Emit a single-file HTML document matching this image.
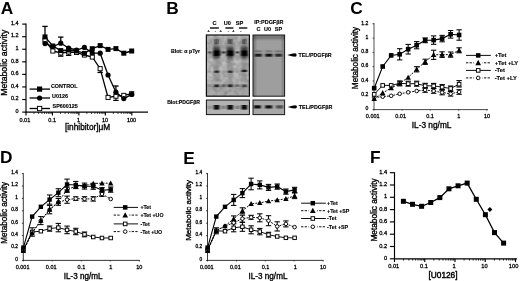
<!DOCTYPE html>
<html lang="en"><head><meta charset="utf-8"><title>Figure</title>
<style>html,body{margin:0;padding:0;background:#fff;overflow:hidden}svg{display:block}text{fill:#000}</style>
</head><body>
<svg width="520" height="281" viewBox="0 0 520 281">
<rect width="520" height="281" fill="#fff"/>
<filter id="soft" x="0" y="0" width="520" height="281" filterUnits="userSpaceOnUse"><feGaussianBlur stdDeviation="0.38"/></filter>
<g filter="url(#soft)">
<text x="0.80" y="13.70" font-size="17.3" text-anchor="start" font-weight="bold" font-family="Liberation Sans, Arial, sans-serif">A</text>
<text x="166.20" y="13.70" font-size="17.3" text-anchor="start" font-weight="bold" font-family="Liberation Sans, Arial, sans-serif">B</text>
<text x="350.30" y="13.70" font-size="17.3" text-anchor="start" font-weight="bold" font-family="Liberation Sans, Arial, sans-serif">C</text>
<text x="-0.10" y="163.40" font-size="17.3" text-anchor="start" font-weight="bold" font-family="Liberation Sans, Arial, sans-serif">D</text>
<text x="183.20" y="163.50" font-size="17.3" text-anchor="start" font-weight="bold" font-family="Liberation Sans, Arial, sans-serif">E</text>
<text x="370.00" y="163.20" font-size="17.3" text-anchor="start" font-weight="bold" font-family="Liberation Sans, Arial, sans-serif">F</text>
<line x1="26.00" y1="23.55" x2="26.00" y2="112.55" stroke="#000" stroke-width="1.15"/>
<line x1="25.55" y1="112.10" x2="148.00" y2="112.10" stroke="#000" stroke-width="1.15"/>
<line x1="22.20" y1="112.10" x2="26.00" y2="112.10" stroke="#000" stroke-width="1.15"/>
<text x="18.60" y="112.78" font-size="5.5" text-anchor="end" font-weight="normal" font-family="Liberation Sans, Arial, sans-serif" stroke="#000" stroke-width="0.28">0</text>
<line x1="22.20" y1="99.53" x2="26.00" y2="99.53" stroke="#000" stroke-width="1.15"/>
<text x="18.60" y="100.21" font-size="5.5" text-anchor="end" font-weight="normal" font-family="Liberation Sans, Arial, sans-serif" stroke="#000" stroke-width="0.28">0.2</text>
<line x1="22.20" y1="86.96" x2="26.00" y2="86.96" stroke="#000" stroke-width="1.15"/>
<text x="18.60" y="87.64" font-size="5.5" text-anchor="end" font-weight="normal" font-family="Liberation Sans, Arial, sans-serif" stroke="#000" stroke-width="0.28">0.4</text>
<line x1="22.20" y1="74.39" x2="26.00" y2="74.39" stroke="#000" stroke-width="1.15"/>
<text x="18.60" y="75.07" font-size="5.5" text-anchor="end" font-weight="normal" font-family="Liberation Sans, Arial, sans-serif" stroke="#000" stroke-width="0.28">0.6</text>
<line x1="22.20" y1="61.82" x2="26.00" y2="61.82" stroke="#000" stroke-width="1.15"/>
<text x="18.60" y="62.50" font-size="5.5" text-anchor="end" font-weight="normal" font-family="Liberation Sans, Arial, sans-serif" stroke="#000" stroke-width="0.28">0.8</text>
<line x1="22.20" y1="49.25" x2="26.00" y2="49.25" stroke="#000" stroke-width="1.15"/>
<text x="18.60" y="49.93" font-size="5.5" text-anchor="end" font-weight="normal" font-family="Liberation Sans, Arial, sans-serif" stroke="#000" stroke-width="0.28">1</text>
<line x1="22.20" y1="36.68" x2="26.00" y2="36.68" stroke="#000" stroke-width="1.15"/>
<text x="18.60" y="37.36" font-size="5.5" text-anchor="end" font-weight="normal" font-family="Liberation Sans, Arial, sans-serif" stroke="#000" stroke-width="0.28">1.2</text>
<line x1="22.20" y1="24.11" x2="26.00" y2="24.11" stroke="#000" stroke-width="1.15"/>
<text x="18.60" y="24.79" font-size="5.5" text-anchor="end" font-weight="normal" font-family="Liberation Sans, Arial, sans-serif" stroke="#000" stroke-width="0.28">1.4</text>
<line x1="26.00" y1="112.10" x2="26.00" y2="115.50" stroke="#000" stroke-width="1.15"/>
<text x="24.90" y="121.50" font-size="5.5" text-anchor="middle" font-weight="normal" font-family="Liberation Sans, Arial, sans-serif" stroke="#000" stroke-width="0.28">0.01</text>
<line x1="52.45" y1="112.10" x2="52.45" y2="115.50" stroke="#000" stroke-width="1.15"/>
<text x="52.15" y="121.50" font-size="5.5" text-anchor="middle" font-weight="normal" font-family="Liberation Sans, Arial, sans-serif" stroke="#000" stroke-width="0.28">0.1</text>
<line x1="78.90" y1="112.10" x2="78.90" y2="115.50" stroke="#000" stroke-width="1.15"/>
<text x="78.60" y="121.50" font-size="5.5" text-anchor="middle" font-weight="normal" font-family="Liberation Sans, Arial, sans-serif" stroke="#000" stroke-width="0.28">1</text>
<line x1="105.35" y1="112.10" x2="105.35" y2="115.50" stroke="#000" stroke-width="1.15"/>
<text x="105.05" y="121.50" font-size="5.5" text-anchor="middle" font-weight="normal" font-family="Liberation Sans, Arial, sans-serif" stroke="#000" stroke-width="0.28">10</text>
<line x1="131.80" y1="112.10" x2="131.80" y2="115.50" stroke="#000" stroke-width="1.15"/>
<text x="131.50" y="121.50" font-size="5.5" text-anchor="middle" font-weight="normal" font-family="Liberation Sans, Arial, sans-serif" stroke="#000" stroke-width="0.28">100</text>
<line x1="33.96" y1="112.10" x2="33.96" y2="113.90" stroke="#000" stroke-width="0.8"/>
<line x1="38.62" y1="112.10" x2="38.62" y2="113.90" stroke="#000" stroke-width="0.8"/>
<line x1="41.92" y1="112.10" x2="41.92" y2="113.90" stroke="#000" stroke-width="0.8"/>
<line x1="44.49" y1="112.10" x2="44.49" y2="113.90" stroke="#000" stroke-width="0.8"/>
<line x1="46.58" y1="112.10" x2="46.58" y2="113.90" stroke="#000" stroke-width="0.8"/>
<line x1="48.35" y1="112.10" x2="48.35" y2="113.90" stroke="#000" stroke-width="0.8"/>
<line x1="49.89" y1="112.10" x2="49.89" y2="113.90" stroke="#000" stroke-width="0.8"/>
<line x1="51.24" y1="112.10" x2="51.24" y2="113.90" stroke="#000" stroke-width="0.8"/>
<line x1="60.41" y1="112.10" x2="60.41" y2="113.90" stroke="#000" stroke-width="0.8"/>
<line x1="65.07" y1="112.10" x2="65.07" y2="113.90" stroke="#000" stroke-width="0.8"/>
<line x1="68.37" y1="112.10" x2="68.37" y2="113.90" stroke="#000" stroke-width="0.8"/>
<line x1="70.94" y1="112.10" x2="70.94" y2="113.90" stroke="#000" stroke-width="0.8"/>
<line x1="73.03" y1="112.10" x2="73.03" y2="113.90" stroke="#000" stroke-width="0.8"/>
<line x1="74.80" y1="112.10" x2="74.80" y2="113.90" stroke="#000" stroke-width="0.8"/>
<line x1="76.34" y1="112.10" x2="76.34" y2="113.90" stroke="#000" stroke-width="0.8"/>
<line x1="77.69" y1="112.10" x2="77.69" y2="113.90" stroke="#000" stroke-width="0.8"/>
<line x1="86.86" y1="112.10" x2="86.86" y2="113.90" stroke="#000" stroke-width="0.8"/>
<line x1="91.52" y1="112.10" x2="91.52" y2="113.90" stroke="#000" stroke-width="0.8"/>
<line x1="94.82" y1="112.10" x2="94.82" y2="113.90" stroke="#000" stroke-width="0.8"/>
<line x1="97.39" y1="112.10" x2="97.39" y2="113.90" stroke="#000" stroke-width="0.8"/>
<line x1="99.48" y1="112.10" x2="99.48" y2="113.90" stroke="#000" stroke-width="0.8"/>
<line x1="101.25" y1="112.10" x2="101.25" y2="113.90" stroke="#000" stroke-width="0.8"/>
<line x1="102.79" y1="112.10" x2="102.79" y2="113.90" stroke="#000" stroke-width="0.8"/>
<line x1="104.14" y1="112.10" x2="104.14" y2="113.90" stroke="#000" stroke-width="0.8"/>
<line x1="113.31" y1="112.10" x2="113.31" y2="113.90" stroke="#000" stroke-width="0.8"/>
<line x1="117.97" y1="112.10" x2="117.97" y2="113.90" stroke="#000" stroke-width="0.8"/>
<line x1="121.27" y1="112.10" x2="121.27" y2="113.90" stroke="#000" stroke-width="0.8"/>
<line x1="123.84" y1="112.10" x2="123.84" y2="113.90" stroke="#000" stroke-width="0.8"/>
<line x1="125.93" y1="112.10" x2="125.93" y2="113.90" stroke="#000" stroke-width="0.8"/>
<line x1="127.70" y1="112.10" x2="127.70" y2="113.90" stroke="#000" stroke-width="0.8"/>
<line x1="129.24" y1="112.10" x2="129.24" y2="113.90" stroke="#000" stroke-width="0.8"/>
<line x1="130.59" y1="112.10" x2="130.59" y2="113.90" stroke="#000" stroke-width="0.8"/>
<text x="7.40" y="62.70" font-size="8.7" text-anchor="middle" font-weight="normal" font-family="Liberation Sans, Arial, sans-serif" transform="rotate(-90 7.40 62.70)" stroke="#000" stroke-width="0.34">Metabolic activity</text>
<text x="87.60" y="129.90" font-size="8.3" text-anchor="middle" font-weight="normal" font-family="Liberation Sans, Arial, sans-serif" stroke="#000" stroke-width="0.34">[inhibitor]μM</text>
<polyline points="45.00,36.90 52.88,46.00 60.76,50.60 68.64,50.00 76.52,51.00 84.40,53.40 92.28,48.70 100.16,45.60 108.04,49.40 115.92,48.60 123.80,53.20 131.68,51.00" fill="none" stroke="#000" stroke-width="1.3"/>
<polyline points="45.00,43.60 52.88,46.50 60.76,43.20 68.64,48.00 76.52,50.00 84.40,47.40 92.28,53.00 100.16,53.20 108.04,75.00 115.92,92.20 123.80,98.60 131.68,94.40" fill="none" stroke="#000" stroke-width="1.3"/>
<polyline points="45.00,40.00 52.88,51.00 60.76,53.00 68.64,52.00 76.52,52.50 84.40,55.00 92.28,57.00 100.16,68.70 108.04,97.40 115.92,96.20 123.80,95.40 131.68,93.70" fill="none" stroke="#000" stroke-width="1.3"/>
<line x1="45.00" y1="37.40" x2="45.00" y2="26.40" stroke="#000" stroke-width="1.3"/>
<line x1="42.30" y1="26.40" x2="47.70" y2="26.40" stroke="#000" stroke-width="1.3"/>
<line x1="60.76" y1="43.60" x2="60.76" y2="37.10" stroke="#000" stroke-width="1.3"/>
<line x1="58.06" y1="37.10" x2="63.46" y2="37.10" stroke="#000" stroke-width="1.3"/>
<line x1="115.92" y1="92.40" x2="115.92" y2="86.00" stroke="#000" stroke-width="1.3"/>
<line x1="113.22" y1="86.00" x2="118.62" y2="86.00" stroke="#000" stroke-width="1.3"/>
<line x1="115.92" y1="96.20" x2="115.92" y2="100.40" stroke="#000" stroke-width="1.2"/>
<line x1="113.22" y1="100.40" x2="118.62" y2="100.40" stroke="#000" stroke-width="1.2"/>
<line x1="100.16" y1="68.70" x2="100.16" y2="72.50" stroke="#000" stroke-width="1.2"/>
<line x1="97.46" y1="72.50" x2="102.86" y2="72.50" stroke="#000" stroke-width="1.2"/>
<line x1="60.76" y1="53.00" x2="60.76" y2="56.20" stroke="#000" stroke-width="1.2"/>
<line x1="58.06" y1="56.20" x2="63.46" y2="56.20" stroke="#000" stroke-width="1.2"/>
<line x1="68.64" y1="52.00" x2="68.64" y2="55.40" stroke="#000" stroke-width="1.2"/>
<line x1="65.94" y1="55.40" x2="71.34" y2="55.40" stroke="#000" stroke-width="1.2"/>
<rect x="42.95" y="37.95" width="4.10" height="4.10" fill="#fff" stroke="#000" stroke-width="0.95"/>
<rect x="50.83" y="48.95" width="4.10" height="4.10" fill="#fff" stroke="#000" stroke-width="0.95"/>
<rect x="58.71" y="50.95" width="4.10" height="4.10" fill="#fff" stroke="#000" stroke-width="0.95"/>
<rect x="66.59" y="49.95" width="4.10" height="4.10" fill="#fff" stroke="#000" stroke-width="0.95"/>
<rect x="74.47" y="50.45" width="4.10" height="4.10" fill="#fff" stroke="#000" stroke-width="0.95"/>
<rect x="82.35" y="52.95" width="4.10" height="4.10" fill="#fff" stroke="#000" stroke-width="0.95"/>
<rect x="90.23" y="54.95" width="4.10" height="4.10" fill="#fff" stroke="#000" stroke-width="0.95"/>
<rect x="98.11" y="66.65" width="4.10" height="4.10" fill="#fff" stroke="#000" stroke-width="0.95"/>
<rect x="105.99" y="95.35" width="4.10" height="4.10" fill="#fff" stroke="#000" stroke-width="0.95"/>
<rect x="113.87" y="94.15" width="4.10" height="4.10" fill="#fff" stroke="#000" stroke-width="0.95"/>
<rect x="121.75" y="93.35" width="4.10" height="4.10" fill="#fff" stroke="#000" stroke-width="0.95"/>
<rect x="129.63" y="91.65" width="4.10" height="4.10" fill="#fff" stroke="#000" stroke-width="0.95"/>
<circle cx="45.00" cy="43.60" r="2.60" fill="#000"/>
<circle cx="52.88" cy="46.50" r="2.60" fill="#000"/>
<circle cx="60.76" cy="43.20" r="2.60" fill="#000"/>
<circle cx="68.64" cy="48.00" r="2.60" fill="#000"/>
<circle cx="76.52" cy="50.00" r="2.60" fill="#000"/>
<circle cx="84.40" cy="47.40" r="2.60" fill="#000"/>
<circle cx="92.28" cy="53.00" r="2.60" fill="#000"/>
<circle cx="100.16" cy="53.20" r="2.60" fill="#000"/>
<circle cx="108.04" cy="75.00" r="2.60" fill="#000"/>
<circle cx="115.92" cy="92.20" r="2.60" fill="#000"/>
<circle cx="123.80" cy="98.60" r="2.60" fill="#000"/>
<circle cx="131.68" cy="94.40" r="2.60" fill="#000"/>
<rect x="42.50" y="34.40" width="5.0" height="5.0" fill="#000"/>
<rect x="50.38" y="43.50" width="5.0" height="5.0" fill="#000"/>
<rect x="58.26" y="48.10" width="5.0" height="5.0" fill="#000"/>
<rect x="66.14" y="47.50" width="5.0" height="5.0" fill="#000"/>
<rect x="74.02" y="48.50" width="5.0" height="5.0" fill="#000"/>
<rect x="81.90" y="50.90" width="5.0" height="5.0" fill="#000"/>
<rect x="89.78" y="46.20" width="5.0" height="5.0" fill="#000"/>
<rect x="97.66" y="43.10" width="5.0" height="5.0" fill="#000"/>
<rect x="105.54" y="46.90" width="5.0" height="5.0" fill="#000"/>
<rect x="113.42" y="46.10" width="5.0" height="5.0" fill="#000"/>
<rect x="121.30" y="50.70" width="5.0" height="5.0" fill="#000"/>
<rect x="129.18" y="48.50" width="5.0" height="5.0" fill="#000"/>
<line x1="29.60" y1="89.10" x2="50.00" y2="89.10" stroke="#000" stroke-width="1.3"/>
<rect x="37.00" y="86.50" width="5.2" height="5.2" fill="#000"/>
<text x="50.90" y="88.00" font-size="5.4" text-anchor="start" font-weight="bold" font-family="Liberation Sans, Arial, sans-serif" stroke="#000" stroke-width="0.14">CONTROL</text>
<line x1="29.60" y1="98.00" x2="50.00" y2="98.00" stroke="#000" stroke-width="1.3"/>
<circle cx="39.60" cy="98.00" r="2.60" fill="#000"/>
<text x="52.00" y="98.30" font-size="5.4" text-anchor="start" font-weight="bold" font-family="Liberation Sans, Arial, sans-serif" stroke="#000" stroke-width="0.14">U0126</text>
<line x1="29.60" y1="108.50" x2="50.00" y2="108.50" stroke="#000" stroke-width="1.3"/>
<rect x="37.45" y="106.35" width="4.30" height="4.30" fill="#fff" stroke="#000" stroke-width="0.95"/>
<text x="52.60" y="107.60" font-size="5.4" text-anchor="start" font-weight="bold" font-family="Liberation Sans, Arial, sans-serif" stroke="#000" stroke-width="0.14">SP600125</text>
<line x1="374.00" y1="23.05" x2="374.00" y2="110.05" stroke="#2a2a2a" stroke-width="0.85"/>
<line x1="373.55" y1="109.60" x2="488.00" y2="109.60" stroke="#2a2a2a" stroke-width="0.85"/>
<line x1="372.60" y1="109.60" x2="374.00" y2="109.60" stroke="#2a2a2a" stroke-width="0.85"/>
<text x="368.40" y="110.34" font-size="5.1" text-anchor="end" font-weight="normal" font-family="Liberation Sans, Arial, sans-serif" stroke="#000" stroke-width="0.28">0</text>
<line x1="372.60" y1="95.30" x2="374.00" y2="95.30" stroke="#2a2a2a" stroke-width="0.85"/>
<text x="368.40" y="96.04" font-size="5.1" text-anchor="end" font-weight="normal" font-family="Liberation Sans, Arial, sans-serif" stroke="#000" stroke-width="0.28">0.2</text>
<line x1="372.60" y1="81.00" x2="374.00" y2="81.00" stroke="#2a2a2a" stroke-width="0.85"/>
<text x="368.40" y="81.74" font-size="5.1" text-anchor="end" font-weight="normal" font-family="Liberation Sans, Arial, sans-serif" stroke="#000" stroke-width="0.28">0.4</text>
<line x1="372.60" y1="66.70" x2="374.00" y2="66.70" stroke="#2a2a2a" stroke-width="0.85"/>
<text x="368.40" y="67.44" font-size="5.1" text-anchor="end" font-weight="normal" font-family="Liberation Sans, Arial, sans-serif" stroke="#000" stroke-width="0.28">0.6</text>
<line x1="372.60" y1="52.40" x2="374.00" y2="52.40" stroke="#2a2a2a" stroke-width="0.85"/>
<text x="368.40" y="53.14" font-size="5.1" text-anchor="end" font-weight="normal" font-family="Liberation Sans, Arial, sans-serif" stroke="#000" stroke-width="0.28">0.8</text>
<line x1="372.60" y1="38.10" x2="374.00" y2="38.10" stroke="#2a2a2a" stroke-width="0.85"/>
<text x="368.40" y="38.84" font-size="5.1" text-anchor="end" font-weight="normal" font-family="Liberation Sans, Arial, sans-serif" stroke="#000" stroke-width="0.28">1</text>
<line x1="372.60" y1="23.80" x2="374.00" y2="23.80" stroke="#2a2a2a" stroke-width="0.85"/>
<text x="368.40" y="24.54" font-size="5.1" text-anchor="end" font-weight="normal" font-family="Liberation Sans, Arial, sans-serif" stroke="#000" stroke-width="0.28">1.2</text>
<line x1="374.00" y1="109.60" x2="374.00" y2="110.60" stroke="#2a2a2a" stroke-width="0.85"/>
<text x="372.70" y="117.90" font-size="5.5" text-anchor="middle" font-weight="normal" font-family="Liberation Sans, Arial, sans-serif" stroke="#000" stroke-width="0.28">0.001</text>
<line x1="402.20" y1="109.60" x2="402.20" y2="110.60" stroke="#2a2a2a" stroke-width="0.85"/>
<text x="400.60" y="117.90" font-size="5.5" text-anchor="middle" font-weight="normal" font-family="Liberation Sans, Arial, sans-serif" stroke="#000" stroke-width="0.28">0.01</text>
<line x1="430.40" y1="109.60" x2="430.40" y2="110.60" stroke="#2a2a2a" stroke-width="0.85"/>
<text x="430.10" y="117.90" font-size="5.5" text-anchor="middle" font-weight="normal" font-family="Liberation Sans, Arial, sans-serif" stroke="#000" stroke-width="0.28">0.1</text>
<line x1="458.60" y1="109.60" x2="458.60" y2="110.60" stroke="#2a2a2a" stroke-width="0.85"/>
<text x="458.70" y="117.90" font-size="5.5" text-anchor="middle" font-weight="normal" font-family="Liberation Sans, Arial, sans-serif" stroke="#000" stroke-width="0.28">1</text>
<line x1="486.80" y1="109.60" x2="486.80" y2="110.60" stroke="#2a2a2a" stroke-width="0.85"/>
<text x="487.00" y="117.90" font-size="5.5" text-anchor="middle" font-weight="normal" font-family="Liberation Sans, Arial, sans-serif" stroke="#000" stroke-width="0.28">10</text>
<text x="358.30" y="58.00" font-size="8.2" text-anchor="middle" font-weight="normal" font-family="Liberation Sans, Arial, sans-serif" transform="rotate(-90 358.30 58.00)" stroke="#000" stroke-width="0.34">Metabolic activity</text>
<text x="431.60" y="128.20" font-size="8.3" text-anchor="middle" font-weight="normal" font-family="Liberation Sans, Arial, sans-serif" stroke="#000" stroke-width="0.34">IL-3 ng/mL</text>
<polyline points="374.20,88.20 382.69,66.50 391.18,55.40 399.67,54.30 408.16,49.20 416.65,45.20 425.14,40.30 433.63,40.10 442.12,38.60 450.61,34.30 459.10,35.00" fill="none" stroke="#000" stroke-width="1.1"/>
<polyline points="374.20,94.40 382.69,85.40 391.18,85.40 399.67,83.40 408.16,83.70 416.65,83.70 425.14,85.80 433.63,85.90 442.12,87.10 450.61,88.50 459.10,84.20" fill="none" stroke="#000" stroke-width="0.95"/>
<polyline points="374.20,98.70 382.69,92.90 391.18,88.00 399.67,83.30 408.16,77.50 416.65,69.30 425.14,61.80 433.63,54.80 442.12,54.60 450.61,54.60 459.10,50.30" fill="none" stroke="#000" stroke-width="0.95" stroke-dasharray="2 1.2"/>
<polyline points="374.20,97.40 382.69,96.70 391.18,95.80 399.67,93.80 408.16,92.30 416.65,91.00 425.14,90.00 433.63,91.00 442.12,92.50 450.61,93.80 459.10,92.00" fill="none" stroke="#000" stroke-width="0.95" stroke-dasharray="2 1.2"/>
<line x1="399.67" y1="54.30" x2="399.67" y2="48.70" stroke="#000" stroke-width="1.05"/>
<line x1="396.97" y1="48.70" x2="402.37" y2="48.70" stroke="#000" stroke-width="1.05"/>
<line x1="399.67" y1="54.30" x2="399.67" y2="59.90" stroke="#000" stroke-width="1.05"/>
<line x1="396.97" y1="59.90" x2="402.37" y2="59.90" stroke="#000" stroke-width="1.05"/>
<line x1="408.16" y1="49.20" x2="408.16" y2="44.40" stroke="#000" stroke-width="1.05"/>
<line x1="405.46" y1="44.40" x2="410.86" y2="44.40" stroke="#000" stroke-width="1.05"/>
<line x1="408.16" y1="49.20" x2="408.16" y2="54.00" stroke="#000" stroke-width="1.05"/>
<line x1="405.46" y1="54.00" x2="410.86" y2="54.00" stroke="#000" stroke-width="1.05"/>
<line x1="416.65" y1="45.20" x2="416.65" y2="41.60" stroke="#000" stroke-width="1.05"/>
<line x1="413.95" y1="41.60" x2="419.35" y2="41.60" stroke="#000" stroke-width="1.05"/>
<line x1="416.65" y1="45.20" x2="416.65" y2="48.80" stroke="#000" stroke-width="1.05"/>
<line x1="413.95" y1="48.80" x2="419.35" y2="48.80" stroke="#000" stroke-width="1.05"/>
<line x1="425.14" y1="40.30" x2="425.14" y2="37.90" stroke="#000" stroke-width="1.05"/>
<line x1="422.44" y1="37.90" x2="427.84" y2="37.90" stroke="#000" stroke-width="1.05"/>
<line x1="425.14" y1="40.30" x2="425.14" y2="42.70" stroke="#000" stroke-width="1.05"/>
<line x1="422.44" y1="42.70" x2="427.84" y2="42.70" stroke="#000" stroke-width="1.05"/>
<line x1="433.63" y1="40.10" x2="433.63" y2="35.90" stroke="#000" stroke-width="1.05"/>
<line x1="430.93" y1="35.90" x2="436.33" y2="35.90" stroke="#000" stroke-width="1.05"/>
<line x1="433.63" y1="40.10" x2="433.63" y2="44.30" stroke="#000" stroke-width="1.05"/>
<line x1="430.93" y1="44.30" x2="436.33" y2="44.30" stroke="#000" stroke-width="1.05"/>
<line x1="442.12" y1="38.60" x2="442.12" y2="35.40" stroke="#000" stroke-width="1.05"/>
<line x1="439.42" y1="35.40" x2="444.82" y2="35.40" stroke="#000" stroke-width="1.05"/>
<line x1="442.12" y1="38.60" x2="442.12" y2="41.80" stroke="#000" stroke-width="1.05"/>
<line x1="439.42" y1="41.80" x2="444.82" y2="41.80" stroke="#000" stroke-width="1.05"/>
<line x1="450.61" y1="34.30" x2="450.61" y2="30.50" stroke="#000" stroke-width="1.05"/>
<line x1="447.91" y1="30.50" x2="453.31" y2="30.50" stroke="#000" stroke-width="1.05"/>
<line x1="450.61" y1="34.30" x2="450.61" y2="38.10" stroke="#000" stroke-width="1.05"/>
<line x1="447.91" y1="38.10" x2="453.31" y2="38.10" stroke="#000" stroke-width="1.05"/>
<line x1="459.10" y1="35.00" x2="459.10" y2="29.80" stroke="#000" stroke-width="1.05"/>
<line x1="456.40" y1="29.80" x2="461.80" y2="29.80" stroke="#000" stroke-width="1.05"/>
<line x1="459.10" y1="35.00" x2="459.10" y2="40.20" stroke="#000" stroke-width="1.05"/>
<line x1="456.40" y1="40.20" x2="461.80" y2="40.20" stroke="#000" stroke-width="1.05"/>
<line x1="416.65" y1="69.30" x2="416.65" y2="66.70" stroke="#000" stroke-width="1.05"/>
<line x1="413.95" y1="66.70" x2="419.35" y2="66.70" stroke="#000" stroke-width="1.05"/>
<line x1="416.65" y1="69.30" x2="416.65" y2="71.90" stroke="#000" stroke-width="1.05"/>
<line x1="413.95" y1="71.90" x2="419.35" y2="71.90" stroke="#000" stroke-width="1.05"/>
<line x1="425.14" y1="61.80" x2="425.14" y2="59.20" stroke="#000" stroke-width="1.05"/>
<line x1="422.44" y1="59.20" x2="427.84" y2="59.20" stroke="#000" stroke-width="1.05"/>
<line x1="425.14" y1="61.80" x2="425.14" y2="64.40" stroke="#000" stroke-width="1.05"/>
<line x1="422.44" y1="64.40" x2="427.84" y2="64.40" stroke="#000" stroke-width="1.05"/>
<line x1="433.63" y1="54.80" x2="433.63" y2="50.20" stroke="#000" stroke-width="1.05"/>
<line x1="430.93" y1="50.20" x2="436.33" y2="50.20" stroke="#000" stroke-width="1.05"/>
<line x1="433.63" y1="54.80" x2="433.63" y2="59.40" stroke="#000" stroke-width="1.05"/>
<line x1="430.93" y1="59.40" x2="436.33" y2="59.40" stroke="#000" stroke-width="1.05"/>
<line x1="442.12" y1="54.60" x2="442.12" y2="51.80" stroke="#000" stroke-width="1.05"/>
<line x1="439.42" y1="51.80" x2="444.82" y2="51.80" stroke="#000" stroke-width="1.05"/>
<line x1="442.12" y1="54.60" x2="442.12" y2="57.40" stroke="#000" stroke-width="1.05"/>
<line x1="439.42" y1="57.40" x2="444.82" y2="57.40" stroke="#000" stroke-width="1.05"/>
<line x1="450.61" y1="54.60" x2="450.61" y2="52.00" stroke="#000" stroke-width="1.05"/>
<line x1="447.91" y1="52.00" x2="453.31" y2="52.00" stroke="#000" stroke-width="1.05"/>
<line x1="450.61" y1="54.60" x2="450.61" y2="57.20" stroke="#000" stroke-width="1.05"/>
<line x1="447.91" y1="57.20" x2="453.31" y2="57.20" stroke="#000" stroke-width="1.05"/>
<line x1="459.10" y1="50.30" x2="459.10" y2="47.80" stroke="#000" stroke-width="1.05"/>
<line x1="456.40" y1="47.80" x2="461.80" y2="47.80" stroke="#000" stroke-width="1.05"/>
<line x1="459.10" y1="50.30" x2="459.10" y2="52.80" stroke="#000" stroke-width="1.05"/>
<line x1="456.40" y1="52.80" x2="461.80" y2="52.80" stroke="#000" stroke-width="1.05"/>
<line x1="399.67" y1="83.40" x2="399.67" y2="80.90" stroke="#000" stroke-width="1.05"/>
<line x1="396.97" y1="80.90" x2="402.37" y2="80.90" stroke="#000" stroke-width="1.05"/>
<line x1="399.67" y1="83.40" x2="399.67" y2="85.90" stroke="#000" stroke-width="1.05"/>
<line x1="396.97" y1="85.90" x2="402.37" y2="85.90" stroke="#000" stroke-width="1.05"/>
<line x1="408.16" y1="83.70" x2="408.16" y2="81.20" stroke="#000" stroke-width="1.05"/>
<line x1="405.46" y1="81.20" x2="410.86" y2="81.20" stroke="#000" stroke-width="1.05"/>
<line x1="408.16" y1="83.70" x2="408.16" y2="86.20" stroke="#000" stroke-width="1.05"/>
<line x1="405.46" y1="86.20" x2="410.86" y2="86.20" stroke="#000" stroke-width="1.05"/>
<line x1="416.65" y1="83.70" x2="416.65" y2="81.20" stroke="#000" stroke-width="1.05"/>
<line x1="413.95" y1="81.20" x2="419.35" y2="81.20" stroke="#000" stroke-width="1.05"/>
<line x1="416.65" y1="83.70" x2="416.65" y2="86.20" stroke="#000" stroke-width="1.05"/>
<line x1="413.95" y1="86.20" x2="419.35" y2="86.20" stroke="#000" stroke-width="1.05"/>
<line x1="425.14" y1="85.80" x2="425.14" y2="83.30" stroke="#000" stroke-width="1.05"/>
<line x1="422.44" y1="83.30" x2="427.84" y2="83.30" stroke="#000" stroke-width="1.05"/>
<line x1="425.14" y1="85.80" x2="425.14" y2="88.30" stroke="#000" stroke-width="1.05"/>
<line x1="422.44" y1="88.30" x2="427.84" y2="88.30" stroke="#000" stroke-width="1.05"/>
<line x1="433.63" y1="85.90" x2="433.63" y2="83.40" stroke="#000" stroke-width="1.05"/>
<line x1="430.93" y1="83.40" x2="436.33" y2="83.40" stroke="#000" stroke-width="1.05"/>
<line x1="433.63" y1="85.90" x2="433.63" y2="88.40" stroke="#000" stroke-width="1.05"/>
<line x1="430.93" y1="88.40" x2="436.33" y2="88.40" stroke="#000" stroke-width="1.05"/>
<line x1="442.12" y1="87.10" x2="442.12" y2="84.60" stroke="#000" stroke-width="1.05"/>
<line x1="439.42" y1="84.60" x2="444.82" y2="84.60" stroke="#000" stroke-width="1.05"/>
<line x1="442.12" y1="87.10" x2="442.12" y2="89.60" stroke="#000" stroke-width="1.05"/>
<line x1="439.42" y1="89.60" x2="444.82" y2="89.60" stroke="#000" stroke-width="1.05"/>
<line x1="450.61" y1="88.50" x2="450.61" y2="86.00" stroke="#000" stroke-width="1.05"/>
<line x1="447.91" y1="86.00" x2="453.31" y2="86.00" stroke="#000" stroke-width="1.05"/>
<line x1="450.61" y1="88.50" x2="450.61" y2="91.00" stroke="#000" stroke-width="1.05"/>
<line x1="447.91" y1="91.00" x2="453.31" y2="91.00" stroke="#000" stroke-width="1.05"/>
<line x1="459.10" y1="84.20" x2="459.10" y2="80.60" stroke="#000" stroke-width="1.05"/>
<line x1="456.40" y1="80.60" x2="461.80" y2="80.60" stroke="#000" stroke-width="1.05"/>
<line x1="459.10" y1="84.20" x2="459.10" y2="87.00" stroke="#000" stroke-width="1.05"/>
<line x1="456.40" y1="87.00" x2="461.80" y2="87.00" stroke="#000" stroke-width="1.05"/>
<line x1="425.14" y1="90.00" x2="425.14" y2="87.70" stroke="#000" stroke-width="1.05"/>
<line x1="422.44" y1="87.70" x2="427.84" y2="87.70" stroke="#000" stroke-width="1.05"/>
<line x1="425.14" y1="90.00" x2="425.14" y2="92.30" stroke="#000" stroke-width="1.05"/>
<line x1="422.44" y1="92.30" x2="427.84" y2="92.30" stroke="#000" stroke-width="1.05"/>
<line x1="433.63" y1="91.00" x2="433.63" y2="88.70" stroke="#000" stroke-width="1.05"/>
<line x1="430.93" y1="88.70" x2="436.33" y2="88.70" stroke="#000" stroke-width="1.05"/>
<line x1="433.63" y1="91.00" x2="433.63" y2="93.30" stroke="#000" stroke-width="1.05"/>
<line x1="430.93" y1="93.30" x2="436.33" y2="93.30" stroke="#000" stroke-width="1.05"/>
<line x1="442.12" y1="92.50" x2="442.12" y2="90.20" stroke="#000" stroke-width="1.05"/>
<line x1="439.42" y1="90.20" x2="444.82" y2="90.20" stroke="#000" stroke-width="1.05"/>
<line x1="442.12" y1="92.50" x2="442.12" y2="94.80" stroke="#000" stroke-width="1.05"/>
<line x1="439.42" y1="94.80" x2="444.82" y2="94.80" stroke="#000" stroke-width="1.05"/>
<line x1="450.61" y1="93.80" x2="450.61" y2="91.50" stroke="#000" stroke-width="1.05"/>
<line x1="447.91" y1="91.50" x2="453.31" y2="91.50" stroke="#000" stroke-width="1.05"/>
<line x1="450.61" y1="93.80" x2="450.61" y2="96.10" stroke="#000" stroke-width="1.05"/>
<line x1="447.91" y1="96.10" x2="453.31" y2="96.10" stroke="#000" stroke-width="1.05"/>
<line x1="459.10" y1="92.00" x2="459.10" y2="89.70" stroke="#000" stroke-width="1.05"/>
<line x1="456.40" y1="89.70" x2="461.80" y2="89.70" stroke="#000" stroke-width="1.05"/>
<line x1="459.10" y1="92.00" x2="459.10" y2="94.30" stroke="#000" stroke-width="1.05"/>
<line x1="456.40" y1="94.30" x2="461.80" y2="94.30" stroke="#000" stroke-width="1.05"/>
<circle cx="374.20" cy="97.40" r="1.80" fill="#fff" stroke="#000" stroke-width="0.95"/>
<circle cx="382.69" cy="96.70" r="1.80" fill="#fff" stroke="#000" stroke-width="0.95"/>
<circle cx="391.18" cy="95.80" r="1.80" fill="#fff" stroke="#000" stroke-width="0.95"/>
<circle cx="399.67" cy="93.80" r="1.80" fill="#fff" stroke="#000" stroke-width="0.95"/>
<circle cx="408.16" cy="92.30" r="1.80" fill="#fff" stroke="#000" stroke-width="0.95"/>
<circle cx="416.65" cy="91.00" r="1.80" fill="#fff" stroke="#000" stroke-width="0.95"/>
<circle cx="425.14" cy="90.00" r="1.80" fill="#fff" stroke="#000" stroke-width="0.95"/>
<circle cx="433.63" cy="91.00" r="1.80" fill="#fff" stroke="#000" stroke-width="0.95"/>
<circle cx="442.12" cy="92.50" r="1.80" fill="#fff" stroke="#000" stroke-width="0.95"/>
<circle cx="450.61" cy="93.80" r="1.80" fill="#fff" stroke="#000" stroke-width="0.95"/>
<circle cx="459.10" cy="92.00" r="1.80" fill="#fff" stroke="#000" stroke-width="0.95"/>
<rect x="372.40" y="92.60" width="3.60" height="3.60" fill="#fff" stroke="#000" stroke-width="0.95"/>
<rect x="380.89" y="83.60" width="3.60" height="3.60" fill="#fff" stroke="#000" stroke-width="0.95"/>
<rect x="389.38" y="83.60" width="3.60" height="3.60" fill="#fff" stroke="#000" stroke-width="0.95"/>
<rect x="397.87" y="81.60" width="3.60" height="3.60" fill="#fff" stroke="#000" stroke-width="0.95"/>
<rect x="406.36" y="81.90" width="3.60" height="3.60" fill="#fff" stroke="#000" stroke-width="0.95"/>
<rect x="414.85" y="81.90" width="3.60" height="3.60" fill="#fff" stroke="#000" stroke-width="0.95"/>
<rect x="423.34" y="84.00" width="3.60" height="3.60" fill="#fff" stroke="#000" stroke-width="0.95"/>
<rect x="431.83" y="84.10" width="3.60" height="3.60" fill="#fff" stroke="#000" stroke-width="0.95"/>
<rect x="440.32" y="85.30" width="3.60" height="3.60" fill="#fff" stroke="#000" stroke-width="0.95"/>
<rect x="448.81" y="86.70" width="3.60" height="3.60" fill="#fff" stroke="#000" stroke-width="0.95"/>
<rect x="457.30" y="82.40" width="3.60" height="3.60" fill="#fff" stroke="#000" stroke-width="0.95"/>
<polygon points="374.20,95.85 376.95,100.95 371.45,100.95" fill="#000"/>
<polygon points="382.69,90.05 385.44,95.15 379.94,95.15" fill="#000"/>
<polygon points="391.18,85.15 393.93,90.25 388.43,90.25" fill="#000"/>
<polygon points="399.67,80.45 402.42,85.55 396.92,85.55" fill="#000"/>
<polygon points="408.16,74.65 410.91,79.75 405.41,79.75" fill="#000"/>
<polygon points="416.65,66.45 419.40,71.55 413.90,71.55" fill="#000"/>
<polygon points="425.14,58.95 427.89,64.05 422.39,64.05" fill="#000"/>
<polygon points="433.63,51.95 436.38,57.05 430.88,57.05" fill="#000"/>
<polygon points="442.12,51.75 444.87,56.85 439.37,56.85" fill="#000"/>
<polygon points="450.61,51.75 453.36,56.85 447.86,56.85" fill="#000"/>
<polygon points="459.10,47.45 461.85,52.55 456.35,52.55" fill="#000"/>
<rect x="371.90" y="85.90" width="4.6" height="4.6" fill="#000"/>
<rect x="380.39" y="64.20" width="4.6" height="4.6" fill="#000"/>
<rect x="388.88" y="53.10" width="4.6" height="4.6" fill="#000"/>
<rect x="397.37" y="52.00" width="4.6" height="4.6" fill="#000"/>
<rect x="405.86" y="46.90" width="4.6" height="4.6" fill="#000"/>
<rect x="414.35" y="42.90" width="4.6" height="4.6" fill="#000"/>
<rect x="422.84" y="38.00" width="4.6" height="4.6" fill="#000"/>
<rect x="431.33" y="37.80" width="4.6" height="4.6" fill="#000"/>
<rect x="439.82" y="36.30" width="4.6" height="4.6" fill="#000"/>
<rect x="448.31" y="32.00" width="4.6" height="4.6" fill="#000"/>
<rect x="456.80" y="32.70" width="4.6" height="4.6" fill="#000"/>
<line x1="466.00" y1="55.40" x2="490.80" y2="55.40" stroke="#000" stroke-width="0.95"/>
<rect x="475.95" y="53.15" width="4.5" height="4.5" fill="#000"/>
<text x="494.70" y="57.40" font-size="5.8" text-anchor="start" font-weight="bold" font-family="Liberation Sans, Arial, sans-serif" stroke="#000" stroke-width="0.14">+Tet</text>
<line x1="466.00" y1="62.80" x2="490.80" y2="62.80" stroke="#000" stroke-width="0.95" stroke-dasharray="2.3 1.3"/>
<rect x="473.90" y="61.80" width="8.6" height="2" fill="#fff"/>
<polygon points="478.20,59.85 481.05,65.15 475.35,65.15" fill="#000"/>
<text x="494.70" y="64.80" font-size="5.8" text-anchor="start" font-weight="bold" font-family="Liberation Sans, Arial, sans-serif" stroke="#000" stroke-width="0.14">+Tet +LY</text>
<line x1="466.00" y1="70.40" x2="490.80" y2="70.40" stroke="#000" stroke-width="0.95"/>
<rect x="476.40" y="68.60" width="3.60" height="3.60" fill="#fff" stroke="#000" stroke-width="0.95"/>
<text x="494.70" y="72.40" font-size="5.8" text-anchor="start" font-weight="bold" font-family="Liberation Sans, Arial, sans-serif" stroke="#000" stroke-width="0.14">-Tet</text>
<line x1="466.00" y1="77.90" x2="490.80" y2="77.90" stroke="#000" stroke-width="0.95" stroke-dasharray="2.3 1.3"/>
<rect x="473.90" y="76.90" width="8.6" height="2" fill="#fff"/>
<circle cx="478.20" cy="77.90" r="1.80" fill="#fff" stroke="#000" stroke-width="0.95"/>
<text x="494.70" y="79.90" font-size="5.8" text-anchor="start" font-weight="bold" font-family="Liberation Sans, Arial, sans-serif" stroke="#000" stroke-width="0.14">-Tet +LY</text>
<line x1="23.30" y1="173.15" x2="23.30" y2="260.85" stroke="#222" stroke-width="0.9"/>
<line x1="22.85" y1="260.40" x2="140.00" y2="260.40" stroke="#222" stroke-width="0.9"/>
<line x1="21.90" y1="260.40" x2="23.30" y2="260.40" stroke="#222" stroke-width="0.9"/>
<text x="18.00" y="260.83" font-size="4.8" text-anchor="end" font-weight="normal" font-family="Liberation Sans, Arial, sans-serif" stroke="#000" stroke-width="0.28">0</text>
<line x1="21.90" y1="248.00" x2="23.30" y2="248.00" stroke="#222" stroke-width="0.9"/>
<text x="18.00" y="248.43" font-size="4.8" text-anchor="end" font-weight="normal" font-family="Liberation Sans, Arial, sans-serif" stroke="#000" stroke-width="0.28">0.2</text>
<line x1="21.90" y1="235.60" x2="23.30" y2="235.60" stroke="#222" stroke-width="0.9"/>
<text x="18.00" y="236.03" font-size="4.8" text-anchor="end" font-weight="normal" font-family="Liberation Sans, Arial, sans-serif" stroke="#000" stroke-width="0.28">0.4</text>
<line x1="21.90" y1="223.20" x2="23.30" y2="223.20" stroke="#222" stroke-width="0.9"/>
<text x="18.00" y="223.63" font-size="4.8" text-anchor="end" font-weight="normal" font-family="Liberation Sans, Arial, sans-serif" stroke="#000" stroke-width="0.28">0.6</text>
<line x1="21.90" y1="210.80" x2="23.30" y2="210.80" stroke="#222" stroke-width="0.9"/>
<text x="18.00" y="211.23" font-size="4.8" text-anchor="end" font-weight="normal" font-family="Liberation Sans, Arial, sans-serif" stroke="#000" stroke-width="0.28">0.8</text>
<line x1="21.90" y1="198.40" x2="23.30" y2="198.40" stroke="#222" stroke-width="0.9"/>
<text x="18.00" y="198.83" font-size="4.8" text-anchor="end" font-weight="normal" font-family="Liberation Sans, Arial, sans-serif" stroke="#000" stroke-width="0.28">1</text>
<line x1="21.90" y1="186.00" x2="23.30" y2="186.00" stroke="#222" stroke-width="0.9"/>
<text x="18.00" y="186.43" font-size="4.8" text-anchor="end" font-weight="normal" font-family="Liberation Sans, Arial, sans-serif" stroke="#000" stroke-width="0.28">1.2</text>
<line x1="21.90" y1="173.60" x2="23.30" y2="173.60" stroke="#222" stroke-width="0.9"/>
<text x="18.00" y="174.03" font-size="4.8" text-anchor="end" font-weight="normal" font-family="Liberation Sans, Arial, sans-serif" stroke="#000" stroke-width="0.28">1.4</text>
<line x1="23.30" y1="260.40" x2="23.30" y2="261.40" stroke="#222" stroke-width="0.9"/>
<text x="22.60" y="268.70" font-size="5.5" text-anchor="middle" font-weight="normal" font-family="Liberation Sans, Arial, sans-serif" stroke="#000" stroke-width="0.28">0.001</text>
<line x1="52.30" y1="260.40" x2="52.30" y2="261.40" stroke="#222" stroke-width="0.9"/>
<text x="51.20" y="268.70" font-size="5.5" text-anchor="middle" font-weight="normal" font-family="Liberation Sans, Arial, sans-serif" stroke="#000" stroke-width="0.28">0.01</text>
<line x1="81.30" y1="260.40" x2="81.30" y2="261.40" stroke="#222" stroke-width="0.9"/>
<text x="81.40" y="268.70" font-size="5.5" text-anchor="middle" font-weight="normal" font-family="Liberation Sans, Arial, sans-serif" stroke="#000" stroke-width="0.28">0.1</text>
<line x1="110.30" y1="260.40" x2="110.30" y2="261.40" stroke="#222" stroke-width="0.9"/>
<text x="110.70" y="268.70" font-size="5.5" text-anchor="middle" font-weight="normal" font-family="Liberation Sans, Arial, sans-serif" stroke="#000" stroke-width="0.28">1</text>
<line x1="139.30" y1="260.40" x2="139.30" y2="261.40" stroke="#222" stroke-width="0.9"/>
<text x="139.20" y="268.70" font-size="5.5" text-anchor="middle" font-weight="normal" font-family="Liberation Sans, Arial, sans-serif" stroke="#000" stroke-width="0.28">10</text>
<text x="7.20" y="212.90" font-size="8.15" text-anchor="middle" font-weight="normal" font-family="Liberation Sans, Arial, sans-serif" transform="rotate(-90 7.20 212.90)" stroke="#000" stroke-width="0.34">Metabolic activity</text>
<text x="83.20" y="279.00" font-size="8.15" text-anchor="middle" font-weight="normal" font-family="Liberation Sans, Arial, sans-serif" stroke="#000" stroke-width="0.34">IL-3 ng/mL</text>
<polyline points="23.40,247.60 32.13,216.60 40.86,206.80 49.59,199.60 58.32,192.70 67.05,184.50 75.78,185.00 84.51,186.10 93.24,186.30 101.97,190.20 110.70,189.60" fill="none" stroke="#000" stroke-width="1.1"/>
<polyline points="23.40,249.60 32.13,232.00 40.86,231.20 49.59,228.60 58.32,227.60 67.05,229.90 75.78,231.50 84.51,234.40 93.24,237.00 101.97,238.00 110.70,238.00" fill="none" stroke="#000" stroke-width="0.95"/>
<polyline points="23.40,250.80 32.13,233.00 40.86,220.60 49.59,209.60 58.32,201.90 67.05,189.80 75.78,186.10 84.51,185.60 93.24,183.50 101.97,183.20 110.70,183.20" fill="none" stroke="#000" stroke-width="0.95" stroke-dasharray="2 1.2"/>
<polyline points="23.40,250.40 32.13,232.50 40.86,220.80 49.59,209.80 58.32,202.30 67.05,199.70 75.78,198.60 84.51,198.90 93.24,198.90 101.97,194.00 110.70,199.00" fill="none" stroke="#000" stroke-width="0.95" stroke-dasharray="2 1.2"/>
<line x1="49.59" y1="199.60" x2="49.59" y2="195.00" stroke="#000" stroke-width="1.05"/>
<line x1="46.89" y1="195.00" x2="52.29" y2="195.00" stroke="#000" stroke-width="1.05"/>
<line x1="49.59" y1="199.60" x2="49.59" y2="204.20" stroke="#000" stroke-width="1.05"/>
<line x1="46.89" y1="204.20" x2="52.29" y2="204.20" stroke="#000" stroke-width="1.05"/>
<line x1="58.32" y1="192.70" x2="58.32" y2="188.70" stroke="#000" stroke-width="1.05"/>
<line x1="55.62" y1="188.70" x2="61.02" y2="188.70" stroke="#000" stroke-width="1.05"/>
<line x1="58.32" y1="192.70" x2="58.32" y2="196.70" stroke="#000" stroke-width="1.05"/>
<line x1="55.62" y1="196.70" x2="61.02" y2="196.70" stroke="#000" stroke-width="1.05"/>
<line x1="67.05" y1="184.50" x2="67.05" y2="179.10" stroke="#000" stroke-width="1.05"/>
<line x1="64.35" y1="179.10" x2="69.75" y2="179.10" stroke="#000" stroke-width="1.05"/>
<line x1="67.05" y1="184.50" x2="67.05" y2="189.90" stroke="#000" stroke-width="1.05"/>
<line x1="64.35" y1="189.90" x2="69.75" y2="189.90" stroke="#000" stroke-width="1.05"/>
<line x1="75.78" y1="185.00" x2="75.78" y2="181.40" stroke="#000" stroke-width="1.05"/>
<line x1="73.08" y1="181.40" x2="78.48" y2="181.40" stroke="#000" stroke-width="1.05"/>
<line x1="75.78" y1="185.00" x2="75.78" y2="188.60" stroke="#000" stroke-width="1.05"/>
<line x1="73.08" y1="188.60" x2="78.48" y2="188.60" stroke="#000" stroke-width="1.05"/>
<line x1="84.51" y1="186.10" x2="84.51" y2="183.10" stroke="#000" stroke-width="1.05"/>
<line x1="81.81" y1="183.10" x2="87.21" y2="183.10" stroke="#000" stroke-width="1.05"/>
<line x1="84.51" y1="186.10" x2="84.51" y2="189.10" stroke="#000" stroke-width="1.05"/>
<line x1="81.81" y1="189.10" x2="87.21" y2="189.10" stroke="#000" stroke-width="1.05"/>
<line x1="93.24" y1="186.30" x2="93.24" y2="183.30" stroke="#000" stroke-width="1.05"/>
<line x1="90.54" y1="183.30" x2="95.94" y2="183.30" stroke="#000" stroke-width="1.05"/>
<line x1="93.24" y1="186.30" x2="93.24" y2="189.30" stroke="#000" stroke-width="1.05"/>
<line x1="90.54" y1="189.30" x2="95.94" y2="189.30" stroke="#000" stroke-width="1.05"/>
<line x1="101.97" y1="190.20" x2="101.97" y2="187.60" stroke="#000" stroke-width="1.05"/>
<line x1="99.27" y1="187.60" x2="104.67" y2="187.60" stroke="#000" stroke-width="1.05"/>
<line x1="101.97" y1="190.20" x2="101.97" y2="192.80" stroke="#000" stroke-width="1.05"/>
<line x1="99.27" y1="192.80" x2="104.67" y2="192.80" stroke="#000" stroke-width="1.05"/>
<line x1="110.70" y1="189.60" x2="110.70" y2="187.00" stroke="#000" stroke-width="1.05"/>
<line x1="108.00" y1="187.00" x2="113.40" y2="187.00" stroke="#000" stroke-width="1.05"/>
<line x1="110.70" y1="189.60" x2="110.70" y2="192.20" stroke="#000" stroke-width="1.05"/>
<line x1="108.00" y1="192.20" x2="113.40" y2="192.20" stroke="#000" stroke-width="1.05"/>
<line x1="40.86" y1="220.60" x2="40.86" y2="216.60" stroke="#000" stroke-width="1.05"/>
<line x1="38.16" y1="216.60" x2="43.56" y2="216.60" stroke="#000" stroke-width="1.05"/>
<line x1="40.86" y1="220.60" x2="40.86" y2="224.60" stroke="#000" stroke-width="1.05"/>
<line x1="38.16" y1="224.60" x2="43.56" y2="224.60" stroke="#000" stroke-width="1.05"/>
<line x1="49.59" y1="209.60" x2="49.59" y2="205.40" stroke="#000" stroke-width="1.05"/>
<line x1="46.89" y1="205.40" x2="52.29" y2="205.40" stroke="#000" stroke-width="1.05"/>
<line x1="49.59" y1="209.60" x2="49.59" y2="213.80" stroke="#000" stroke-width="1.05"/>
<line x1="46.89" y1="213.80" x2="52.29" y2="213.80" stroke="#000" stroke-width="1.05"/>
<line x1="58.32" y1="201.90" x2="58.32" y2="198.50" stroke="#000" stroke-width="1.05"/>
<line x1="55.62" y1="198.50" x2="61.02" y2="198.50" stroke="#000" stroke-width="1.05"/>
<line x1="58.32" y1="201.90" x2="58.32" y2="205.30" stroke="#000" stroke-width="1.05"/>
<line x1="55.62" y1="205.30" x2="61.02" y2="205.30" stroke="#000" stroke-width="1.05"/>
<line x1="67.05" y1="189.80" x2="67.05" y2="187.20" stroke="#000" stroke-width="1.05"/>
<line x1="64.35" y1="187.20" x2="69.75" y2="187.20" stroke="#000" stroke-width="1.05"/>
<line x1="67.05" y1="189.80" x2="67.05" y2="192.40" stroke="#000" stroke-width="1.05"/>
<line x1="64.35" y1="192.40" x2="69.75" y2="192.40" stroke="#000" stroke-width="1.05"/>
<line x1="32.13" y1="232.00" x2="32.13" y2="227.80" stroke="#000" stroke-width="1.05"/>
<line x1="29.43" y1="227.80" x2="34.83" y2="227.80" stroke="#000" stroke-width="1.05"/>
<line x1="32.13" y1="232.00" x2="32.13" y2="236.20" stroke="#000" stroke-width="1.05"/>
<line x1="29.43" y1="236.20" x2="34.83" y2="236.20" stroke="#000" stroke-width="1.05"/>
<line x1="49.59" y1="228.60" x2="49.59" y2="226.00" stroke="#000" stroke-width="1.05"/>
<line x1="46.89" y1="226.00" x2="52.29" y2="226.00" stroke="#000" stroke-width="1.05"/>
<line x1="49.59" y1="228.60" x2="49.59" y2="231.20" stroke="#000" stroke-width="1.05"/>
<line x1="46.89" y1="231.20" x2="52.29" y2="231.20" stroke="#000" stroke-width="1.05"/>
<line x1="58.32" y1="227.60" x2="58.32" y2="223.40" stroke="#000" stroke-width="1.05"/>
<line x1="55.62" y1="223.40" x2="61.02" y2="223.40" stroke="#000" stroke-width="1.05"/>
<line x1="58.32" y1="227.60" x2="58.32" y2="231.80" stroke="#000" stroke-width="1.05"/>
<line x1="55.62" y1="231.80" x2="61.02" y2="231.80" stroke="#000" stroke-width="1.05"/>
<line x1="67.05" y1="229.90" x2="67.05" y2="226.10" stroke="#000" stroke-width="1.05"/>
<line x1="64.35" y1="226.10" x2="69.75" y2="226.10" stroke="#000" stroke-width="1.05"/>
<line x1="67.05" y1="229.90" x2="67.05" y2="233.70" stroke="#000" stroke-width="1.05"/>
<line x1="64.35" y1="233.70" x2="69.75" y2="233.70" stroke="#000" stroke-width="1.05"/>
<line x1="75.78" y1="231.50" x2="75.78" y2="228.30" stroke="#000" stroke-width="1.05"/>
<line x1="73.08" y1="228.30" x2="78.48" y2="228.30" stroke="#000" stroke-width="1.05"/>
<line x1="75.78" y1="231.50" x2="75.78" y2="234.70" stroke="#000" stroke-width="1.05"/>
<line x1="73.08" y1="234.70" x2="78.48" y2="234.70" stroke="#000" stroke-width="1.05"/>
<line x1="84.51" y1="234.40" x2="84.51" y2="232.00" stroke="#000" stroke-width="1.05"/>
<line x1="81.81" y1="232.00" x2="87.21" y2="232.00" stroke="#000" stroke-width="1.05"/>
<line x1="84.51" y1="234.40" x2="84.51" y2="236.80" stroke="#000" stroke-width="1.05"/>
<line x1="81.81" y1="236.80" x2="87.21" y2="236.80" stroke="#000" stroke-width="1.05"/>
<line x1="67.05" y1="199.70" x2="67.05" y2="196.10" stroke="#000" stroke-width="1.05"/>
<line x1="64.35" y1="196.10" x2="69.75" y2="196.10" stroke="#000" stroke-width="1.05"/>
<line x1="67.05" y1="199.70" x2="67.05" y2="203.30" stroke="#000" stroke-width="1.05"/>
<line x1="64.35" y1="203.30" x2="69.75" y2="203.30" stroke="#000" stroke-width="1.05"/>
<line x1="75.78" y1="198.60" x2="75.78" y2="196.80" stroke="#000" stroke-width="1.05"/>
<line x1="73.08" y1="196.80" x2="78.48" y2="196.80" stroke="#000" stroke-width="1.05"/>
<line x1="75.78" y1="198.60" x2="75.78" y2="200.40" stroke="#000" stroke-width="1.05"/>
<line x1="73.08" y1="200.40" x2="78.48" y2="200.40" stroke="#000" stroke-width="1.05"/>
<line x1="84.51" y1="198.90" x2="84.51" y2="196.70" stroke="#000" stroke-width="1.05"/>
<line x1="81.81" y1="196.70" x2="87.21" y2="196.70" stroke="#000" stroke-width="1.05"/>
<line x1="84.51" y1="198.90" x2="84.51" y2="201.10" stroke="#000" stroke-width="1.05"/>
<line x1="81.81" y1="201.10" x2="87.21" y2="201.10" stroke="#000" stroke-width="1.05"/>
<line x1="93.24" y1="198.90" x2="93.24" y2="196.70" stroke="#000" stroke-width="1.05"/>
<line x1="90.54" y1="196.70" x2="95.94" y2="196.70" stroke="#000" stroke-width="1.05"/>
<line x1="93.24" y1="198.90" x2="93.24" y2="201.10" stroke="#000" stroke-width="1.05"/>
<line x1="90.54" y1="201.10" x2="95.94" y2="201.10" stroke="#000" stroke-width="1.05"/>
<line x1="101.97" y1="194.00" x2="101.97" y2="191.60" stroke="#000" stroke-width="1.05"/>
<line x1="99.27" y1="191.60" x2="104.67" y2="191.60" stroke="#000" stroke-width="1.05"/>
<line x1="101.97" y1="194.00" x2="101.97" y2="196.40" stroke="#000" stroke-width="1.05"/>
<line x1="99.27" y1="196.40" x2="104.67" y2="196.40" stroke="#000" stroke-width="1.05"/>
<circle cx="23.40" cy="250.40" r="1.80" fill="#fff" stroke="#000" stroke-width="0.95"/>
<circle cx="32.13" cy="232.50" r="1.80" fill="#fff" stroke="#000" stroke-width="0.95"/>
<circle cx="40.86" cy="220.80" r="1.80" fill="#fff" stroke="#000" stroke-width="0.95"/>
<circle cx="49.59" cy="209.80" r="1.80" fill="#fff" stroke="#000" stroke-width="0.95"/>
<circle cx="58.32" cy="202.30" r="1.80" fill="#fff" stroke="#000" stroke-width="0.95"/>
<circle cx="67.05" cy="199.70" r="1.80" fill="#fff" stroke="#000" stroke-width="0.95"/>
<circle cx="75.78" cy="198.60" r="1.80" fill="#fff" stroke="#000" stroke-width="0.95"/>
<circle cx="84.51" cy="198.90" r="1.80" fill="#fff" stroke="#000" stroke-width="0.95"/>
<circle cx="93.24" cy="198.90" r="1.80" fill="#fff" stroke="#000" stroke-width="0.95"/>
<circle cx="101.97" cy="194.00" r="1.80" fill="#fff" stroke="#000" stroke-width="0.95"/>
<circle cx="110.70" cy="199.00" r="1.80" fill="#fff" stroke="#000" stroke-width="0.95"/>
<rect x="21.65" y="247.85" width="3.50" height="3.50" fill="#fff" stroke="#000" stroke-width="0.95"/>
<rect x="30.38" y="230.25" width="3.50" height="3.50" fill="#fff" stroke="#000" stroke-width="0.95"/>
<rect x="39.11" y="229.45" width="3.50" height="3.50" fill="#fff" stroke="#000" stroke-width="0.95"/>
<rect x="47.84" y="226.85" width="3.50" height="3.50" fill="#fff" stroke="#000" stroke-width="0.95"/>
<rect x="56.57" y="225.85" width="3.50" height="3.50" fill="#fff" stroke="#000" stroke-width="0.95"/>
<rect x="65.30" y="228.15" width="3.50" height="3.50" fill="#fff" stroke="#000" stroke-width="0.95"/>
<rect x="74.03" y="229.75" width="3.50" height="3.50" fill="#fff" stroke="#000" stroke-width="0.95"/>
<rect x="82.76" y="232.65" width="3.50" height="3.50" fill="#fff" stroke="#000" stroke-width="0.95"/>
<rect x="91.49" y="235.25" width="3.50" height="3.50" fill="#fff" stroke="#000" stroke-width="0.95"/>
<rect x="100.22" y="236.25" width="3.50" height="3.50" fill="#fff" stroke="#000" stroke-width="0.95"/>
<rect x="108.95" y="236.25" width="3.50" height="3.50" fill="#fff" stroke="#000" stroke-width="0.95"/>
<polygon points="23.40,248.00 26.10,253.00 20.70,253.00" fill="#000"/>
<polygon points="32.13,230.20 34.83,235.20 29.43,235.20" fill="#000"/>
<polygon points="40.86,217.80 43.56,222.80 38.16,222.80" fill="#000"/>
<polygon points="49.59,206.80 52.29,211.80 46.89,211.80" fill="#000"/>
<polygon points="58.32,199.10 61.02,204.10 55.62,204.10" fill="#000"/>
<polygon points="67.05,187.00 69.75,192.00 64.35,192.00" fill="#000"/>
<polygon points="75.78,183.30 78.48,188.30 73.08,188.30" fill="#000"/>
<polygon points="84.51,182.80 87.21,187.80 81.81,187.80" fill="#000"/>
<polygon points="93.24,180.70 95.94,185.70 90.54,185.70" fill="#000"/>
<polygon points="101.97,180.40 104.67,185.40 99.27,185.40" fill="#000"/>
<polygon points="110.70,180.40 113.40,185.40 108.00,185.40" fill="#000"/>
<rect x="21.20" y="245.40" width="4.4" height="4.4" fill="#000"/>
<rect x="29.93" y="214.40" width="4.4" height="4.4" fill="#000"/>
<rect x="38.66" y="204.60" width="4.4" height="4.4" fill="#000"/>
<rect x="47.39" y="197.40" width="4.4" height="4.4" fill="#000"/>
<rect x="56.12" y="190.50" width="4.4" height="4.4" fill="#000"/>
<rect x="64.85" y="182.30" width="4.4" height="4.4" fill="#000"/>
<rect x="73.58" y="182.80" width="4.4" height="4.4" fill="#000"/>
<rect x="82.31" y="183.90" width="4.4" height="4.4" fill="#000"/>
<rect x="91.04" y="184.10" width="4.4" height="4.4" fill="#000"/>
<rect x="99.77" y="188.00" width="4.4" height="4.4" fill="#000"/>
<rect x="108.50" y="187.40" width="4.4" height="4.4" fill="#000"/>
<line x1="113.70" y1="207.40" x2="138.00" y2="207.40" stroke="#000" stroke-width="0.95"/>
<rect x="122.95" y="205.15" width="4.5" height="4.5" fill="#000"/>
<text x="140.40" y="209.30" font-size="5.3" text-anchor="start" font-weight="bold" font-family="Liberation Sans, Arial, sans-serif" stroke="#000" stroke-width="0.14">+Tet</text>
<line x1="113.70" y1="215.10" x2="138.00" y2="215.10" stroke="#000" stroke-width="0.95" stroke-dasharray="2.3 1.3"/>
<rect x="121.00" y="214.10" width="8.4" height="2" fill="#fff"/>
<polygon points="125.20,212.15 128.05,217.45 122.35,217.45" fill="#000"/>
<text x="140.40" y="217.00" font-size="5.3" text-anchor="start" font-weight="bold" font-family="Liberation Sans, Arial, sans-serif" stroke="#000" stroke-width="0.14">+Tet +UO</text>
<line x1="113.70" y1="223.90" x2="138.00" y2="223.90" stroke="#000" stroke-width="0.95"/>
<rect x="123.40" y="222.10" width="3.60" height="3.60" fill="#fff" stroke="#000" stroke-width="0.95"/>
<text x="140.40" y="225.80" font-size="5.3" text-anchor="start" font-weight="bold" font-family="Liberation Sans, Arial, sans-serif" stroke="#000" stroke-width="0.14">-Tet</text>
<line x1="113.70" y1="231.60" x2="138.00" y2="231.60" stroke="#000" stroke-width="0.95" stroke-dasharray="2.3 1.3"/>
<rect x="121.00" y="230.60" width="8.4" height="2" fill="#fff"/>
<circle cx="125.20" cy="231.60" r="1.80" fill="#fff" stroke="#000" stroke-width="0.95"/>
<text x="140.40" y="233.50" font-size="5.3" text-anchor="start" font-weight="bold" font-family="Liberation Sans, Arial, sans-serif" stroke="#000" stroke-width="0.14">-Tet +UO</text>
<line x1="207.50" y1="173.15" x2="207.50" y2="260.85" stroke="#222" stroke-width="0.9"/>
<line x1="207.05" y1="260.40" x2="323.60" y2="260.40" stroke="#222" stroke-width="0.9"/>
<line x1="206.10" y1="260.40" x2="207.50" y2="260.40" stroke="#222" stroke-width="0.9"/>
<text x="202.20" y="260.83" font-size="4.8" text-anchor="end" font-weight="normal" font-family="Liberation Sans, Arial, sans-serif" stroke="#000" stroke-width="0.28">0</text>
<line x1="206.10" y1="248.00" x2="207.50" y2="248.00" stroke="#222" stroke-width="0.9"/>
<text x="202.20" y="248.43" font-size="4.8" text-anchor="end" font-weight="normal" font-family="Liberation Sans, Arial, sans-serif" stroke="#000" stroke-width="0.28">0.2</text>
<line x1="206.10" y1="235.60" x2="207.50" y2="235.60" stroke="#222" stroke-width="0.9"/>
<text x="202.20" y="236.03" font-size="4.8" text-anchor="end" font-weight="normal" font-family="Liberation Sans, Arial, sans-serif" stroke="#000" stroke-width="0.28">0.4</text>
<line x1="206.10" y1="223.20" x2="207.50" y2="223.20" stroke="#222" stroke-width="0.9"/>
<text x="202.20" y="223.63" font-size="4.8" text-anchor="end" font-weight="normal" font-family="Liberation Sans, Arial, sans-serif" stroke="#000" stroke-width="0.28">0.6</text>
<line x1="206.10" y1="210.80" x2="207.50" y2="210.80" stroke="#222" stroke-width="0.9"/>
<text x="202.20" y="211.23" font-size="4.8" text-anchor="end" font-weight="normal" font-family="Liberation Sans, Arial, sans-serif" stroke="#000" stroke-width="0.28">0.8</text>
<line x1="206.10" y1="198.40" x2="207.50" y2="198.40" stroke="#222" stroke-width="0.9"/>
<text x="202.20" y="198.83" font-size="4.8" text-anchor="end" font-weight="normal" font-family="Liberation Sans, Arial, sans-serif" stroke="#000" stroke-width="0.28">1</text>
<line x1="206.10" y1="186.00" x2="207.50" y2="186.00" stroke="#222" stroke-width="0.9"/>
<text x="202.20" y="186.43" font-size="4.8" text-anchor="end" font-weight="normal" font-family="Liberation Sans, Arial, sans-serif" stroke="#000" stroke-width="0.28">1.2</text>
<line x1="206.10" y1="173.60" x2="207.50" y2="173.60" stroke="#222" stroke-width="0.9"/>
<text x="202.20" y="174.03" font-size="4.8" text-anchor="end" font-weight="normal" font-family="Liberation Sans, Arial, sans-serif" stroke="#000" stroke-width="0.28">1.4</text>
<line x1="207.50" y1="260.40" x2="207.50" y2="261.40" stroke="#222" stroke-width="0.9"/>
<text x="206.80" y="268.70" font-size="5.5" text-anchor="middle" font-weight="normal" font-family="Liberation Sans, Arial, sans-serif" stroke="#000" stroke-width="0.28">0.001</text>
<line x1="236.40" y1="260.40" x2="236.40" y2="261.40" stroke="#222" stroke-width="0.9"/>
<text x="235.40" y="268.70" font-size="5.5" text-anchor="middle" font-weight="normal" font-family="Liberation Sans, Arial, sans-serif" stroke="#000" stroke-width="0.28">0.01</text>
<line x1="265.30" y1="260.40" x2="265.30" y2="261.40" stroke="#222" stroke-width="0.9"/>
<text x="265.50" y="268.70" font-size="5.5" text-anchor="middle" font-weight="normal" font-family="Liberation Sans, Arial, sans-serif" stroke="#000" stroke-width="0.28">0.1</text>
<line x1="294.20" y1="260.40" x2="294.20" y2="261.40" stroke="#222" stroke-width="0.9"/>
<text x="295.20" y="268.70" font-size="5.5" text-anchor="middle" font-weight="normal" font-family="Liberation Sans, Arial, sans-serif" stroke="#000" stroke-width="0.28">1</text>
<line x1="323.10" y1="260.40" x2="323.10" y2="261.40" stroke="#222" stroke-width="0.9"/>
<text x="323.00" y="268.70" font-size="5.5" text-anchor="middle" font-weight="normal" font-family="Liberation Sans, Arial, sans-serif" stroke="#000" stroke-width="0.28">10</text>
<text x="191.00" y="210.40" font-size="8.0" text-anchor="middle" font-weight="normal" font-family="Liberation Sans, Arial, sans-serif" transform="rotate(-90 191.00 210.40)" stroke="#000" stroke-width="0.34">Metabolic activity</text>
<text x="268.00" y="279.00" font-size="8.15" text-anchor="middle" font-weight="normal" font-family="Liberation Sans, Arial, sans-serif" stroke="#000" stroke-width="0.34">IL-3 ng/mL</text>
<polyline points="207.60,247.60 216.30,216.60 225.00,206.80 233.70,199.90 242.40,193.10 251.10,184.00 259.80,184.90 268.50,187.40 277.20,186.60 285.90,191.60 294.60,189.90" fill="none" stroke="#000" stroke-width="1.1"/>
<polyline points="207.60,249.60 216.30,230.80 225.00,231.20 233.70,227.80 242.40,226.80 251.10,229.80 259.80,231.60 268.50,234.70 277.20,236.50 285.90,237.80 294.60,237.80" fill="none" stroke="#000" stroke-width="0.95"/>
<polyline points="207.60,250.80 216.30,230.60 225.00,226.00 233.70,218.90 242.40,210.80 251.10,203.80 259.80,202.80 268.50,201.10 277.20,200.00 285.90,198.80 294.60,195.80" fill="none" stroke="#000" stroke-width="0.95" stroke-dasharray="2 1.2"/>
<polyline points="207.60,250.20 216.30,230.60 225.00,226.20 233.70,222.70 242.40,218.70 251.10,217.30 259.80,217.80 268.50,220.70 277.20,226.40 285.90,223.90 294.60,227.10" fill="none" stroke="#000" stroke-width="0.95" stroke-dasharray="2 1.2"/>
<line x1="233.70" y1="199.90" x2="233.70" y2="194.40" stroke="#000" stroke-width="1.05"/>
<line x1="231.00" y1="194.40" x2="236.40" y2="194.40" stroke="#000" stroke-width="1.05"/>
<line x1="233.70" y1="199.90" x2="233.70" y2="205.40" stroke="#000" stroke-width="1.05"/>
<line x1="231.00" y1="205.40" x2="236.40" y2="205.40" stroke="#000" stroke-width="1.05"/>
<line x1="242.40" y1="193.10" x2="242.40" y2="188.60" stroke="#000" stroke-width="1.05"/>
<line x1="239.70" y1="188.60" x2="245.10" y2="188.60" stroke="#000" stroke-width="1.05"/>
<line x1="242.40" y1="193.10" x2="242.40" y2="197.60" stroke="#000" stroke-width="1.05"/>
<line x1="239.70" y1="197.60" x2="245.10" y2="197.60" stroke="#000" stroke-width="1.05"/>
<line x1="251.10" y1="184.00" x2="251.10" y2="178.20" stroke="#000" stroke-width="1.05"/>
<line x1="248.40" y1="178.20" x2="253.80" y2="178.20" stroke="#000" stroke-width="1.05"/>
<line x1="251.10" y1="184.00" x2="251.10" y2="189.80" stroke="#000" stroke-width="1.05"/>
<line x1="248.40" y1="189.80" x2="253.80" y2="189.80" stroke="#000" stroke-width="1.05"/>
<line x1="259.80" y1="184.90" x2="259.80" y2="180.90" stroke="#000" stroke-width="1.05"/>
<line x1="257.10" y1="180.90" x2="262.50" y2="180.90" stroke="#000" stroke-width="1.05"/>
<line x1="259.80" y1="184.90" x2="259.80" y2="188.90" stroke="#000" stroke-width="1.05"/>
<line x1="257.10" y1="188.90" x2="262.50" y2="188.90" stroke="#000" stroke-width="1.05"/>
<line x1="268.50" y1="187.40" x2="268.50" y2="184.40" stroke="#000" stroke-width="1.05"/>
<line x1="265.80" y1="184.40" x2="271.20" y2="184.40" stroke="#000" stroke-width="1.05"/>
<line x1="268.50" y1="187.40" x2="268.50" y2="190.40" stroke="#000" stroke-width="1.05"/>
<line x1="265.80" y1="190.40" x2="271.20" y2="190.40" stroke="#000" stroke-width="1.05"/>
<line x1="277.20" y1="186.60" x2="277.20" y2="184.00" stroke="#000" stroke-width="1.05"/>
<line x1="274.50" y1="184.00" x2="279.90" y2="184.00" stroke="#000" stroke-width="1.05"/>
<line x1="277.20" y1="186.60" x2="277.20" y2="189.20" stroke="#000" stroke-width="1.05"/>
<line x1="274.50" y1="189.20" x2="279.90" y2="189.20" stroke="#000" stroke-width="1.05"/>
<line x1="285.90" y1="191.60" x2="285.90" y2="189.00" stroke="#000" stroke-width="1.05"/>
<line x1="283.20" y1="189.00" x2="288.60" y2="189.00" stroke="#000" stroke-width="1.05"/>
<line x1="285.90" y1="191.60" x2="285.90" y2="194.20" stroke="#000" stroke-width="1.05"/>
<line x1="283.20" y1="194.20" x2="288.60" y2="194.20" stroke="#000" stroke-width="1.05"/>
<line x1="294.60" y1="189.90" x2="294.60" y2="187.30" stroke="#000" stroke-width="1.05"/>
<line x1="291.90" y1="187.30" x2="297.30" y2="187.30" stroke="#000" stroke-width="1.05"/>
<line x1="294.60" y1="189.90" x2="294.60" y2="192.50" stroke="#000" stroke-width="1.05"/>
<line x1="291.90" y1="192.50" x2="297.30" y2="192.50" stroke="#000" stroke-width="1.05"/>
<line x1="233.70" y1="218.90" x2="233.70" y2="215.90" stroke="#000" stroke-width="1.05"/>
<line x1="231.00" y1="215.90" x2="236.40" y2="215.90" stroke="#000" stroke-width="1.05"/>
<line x1="233.70" y1="218.90" x2="233.70" y2="221.90" stroke="#000" stroke-width="1.05"/>
<line x1="231.00" y1="221.90" x2="236.40" y2="221.90" stroke="#000" stroke-width="1.05"/>
<line x1="242.40" y1="210.80" x2="242.40" y2="207.80" stroke="#000" stroke-width="1.05"/>
<line x1="239.70" y1="207.80" x2="245.10" y2="207.80" stroke="#000" stroke-width="1.05"/>
<line x1="242.40" y1="210.80" x2="242.40" y2="213.80" stroke="#000" stroke-width="1.05"/>
<line x1="239.70" y1="213.80" x2="245.10" y2="213.80" stroke="#000" stroke-width="1.05"/>
<line x1="294.60" y1="195.80" x2="294.60" y2="193.00" stroke="#000" stroke-width="1.05"/>
<line x1="291.90" y1="193.00" x2="297.30" y2="193.00" stroke="#000" stroke-width="1.05"/>
<line x1="294.60" y1="195.80" x2="294.60" y2="198.60" stroke="#000" stroke-width="1.05"/>
<line x1="291.90" y1="198.60" x2="297.30" y2="198.60" stroke="#000" stroke-width="1.05"/>
<line x1="216.30" y1="230.80" x2="216.30" y2="227.80" stroke="#000" stroke-width="1.05"/>
<line x1="213.60" y1="227.80" x2="219.00" y2="227.80" stroke="#000" stroke-width="1.05"/>
<line x1="216.30" y1="230.80" x2="216.30" y2="233.80" stroke="#000" stroke-width="1.05"/>
<line x1="213.60" y1="233.80" x2="219.00" y2="233.80" stroke="#000" stroke-width="1.05"/>
<line x1="233.70" y1="227.80" x2="233.70" y2="223.80" stroke="#000" stroke-width="1.05"/>
<line x1="231.00" y1="223.80" x2="236.40" y2="223.80" stroke="#000" stroke-width="1.05"/>
<line x1="233.70" y1="227.80" x2="233.70" y2="231.80" stroke="#000" stroke-width="1.05"/>
<line x1="231.00" y1="231.80" x2="236.40" y2="231.80" stroke="#000" stroke-width="1.05"/>
<line x1="242.40" y1="226.80" x2="242.40" y2="222.30" stroke="#000" stroke-width="1.05"/>
<line x1="239.70" y1="222.30" x2="245.10" y2="222.30" stroke="#000" stroke-width="1.05"/>
<line x1="242.40" y1="226.80" x2="242.40" y2="231.30" stroke="#000" stroke-width="1.05"/>
<line x1="239.70" y1="231.30" x2="245.10" y2="231.30" stroke="#000" stroke-width="1.05"/>
<line x1="251.10" y1="229.80" x2="251.10" y2="225.80" stroke="#000" stroke-width="1.05"/>
<line x1="248.40" y1="225.80" x2="253.80" y2="225.80" stroke="#000" stroke-width="1.05"/>
<line x1="251.10" y1="229.80" x2="251.10" y2="233.80" stroke="#000" stroke-width="1.05"/>
<line x1="248.40" y1="233.80" x2="253.80" y2="233.80" stroke="#000" stroke-width="1.05"/>
<line x1="259.80" y1="231.60" x2="259.80" y2="228.40" stroke="#000" stroke-width="1.05"/>
<line x1="257.10" y1="228.40" x2="262.50" y2="228.40" stroke="#000" stroke-width="1.05"/>
<line x1="259.80" y1="231.60" x2="259.80" y2="234.80" stroke="#000" stroke-width="1.05"/>
<line x1="257.10" y1="234.80" x2="262.50" y2="234.80" stroke="#000" stroke-width="1.05"/>
<line x1="268.50" y1="234.70" x2="268.50" y2="232.30" stroke="#000" stroke-width="1.05"/>
<line x1="265.80" y1="232.30" x2="271.20" y2="232.30" stroke="#000" stroke-width="1.05"/>
<line x1="268.50" y1="234.70" x2="268.50" y2="237.10" stroke="#000" stroke-width="1.05"/>
<line x1="265.80" y1="237.10" x2="271.20" y2="237.10" stroke="#000" stroke-width="1.05"/>
<line x1="242.40" y1="218.70" x2="242.40" y2="215.20" stroke="#000" stroke-width="1.05"/>
<line x1="239.70" y1="215.20" x2="245.10" y2="215.20" stroke="#000" stroke-width="1.05"/>
<line x1="242.40" y1="218.70" x2="242.40" y2="222.20" stroke="#000" stroke-width="1.05"/>
<line x1="239.70" y1="222.20" x2="245.10" y2="222.20" stroke="#000" stroke-width="1.05"/>
<line x1="251.10" y1="217.30" x2="251.10" y2="215.30" stroke="#000" stroke-width="1.05"/>
<line x1="248.40" y1="215.30" x2="253.80" y2="215.30" stroke="#000" stroke-width="1.05"/>
<line x1="251.10" y1="217.30" x2="251.10" y2="219.30" stroke="#000" stroke-width="1.05"/>
<line x1="248.40" y1="219.30" x2="253.80" y2="219.30" stroke="#000" stroke-width="1.05"/>
<line x1="259.80" y1="217.80" x2="259.80" y2="213.80" stroke="#000" stroke-width="1.05"/>
<line x1="257.10" y1="213.80" x2="262.50" y2="213.80" stroke="#000" stroke-width="1.05"/>
<line x1="259.80" y1="217.80" x2="259.80" y2="221.80" stroke="#000" stroke-width="1.05"/>
<line x1="257.10" y1="221.80" x2="262.50" y2="221.80" stroke="#000" stroke-width="1.05"/>
<line x1="268.50" y1="220.70" x2="268.50" y2="215.70" stroke="#000" stroke-width="1.05"/>
<line x1="265.80" y1="215.70" x2="271.20" y2="215.70" stroke="#000" stroke-width="1.05"/>
<line x1="268.50" y1="220.70" x2="268.50" y2="225.70" stroke="#000" stroke-width="1.05"/>
<line x1="265.80" y1="225.70" x2="271.20" y2="225.70" stroke="#000" stroke-width="1.05"/>
<line x1="277.20" y1="226.40" x2="277.20" y2="221.80" stroke="#000" stroke-width="1.05"/>
<line x1="274.50" y1="221.80" x2="279.90" y2="221.80" stroke="#000" stroke-width="1.05"/>
<line x1="277.20" y1="226.40" x2="277.20" y2="231.00" stroke="#000" stroke-width="1.05"/>
<line x1="274.50" y1="231.00" x2="279.90" y2="231.00" stroke="#000" stroke-width="1.05"/>
<line x1="285.90" y1="223.90" x2="285.90" y2="220.90" stroke="#000" stroke-width="1.05"/>
<line x1="283.20" y1="220.90" x2="288.60" y2="220.90" stroke="#000" stroke-width="1.05"/>
<line x1="285.90" y1="223.90" x2="285.90" y2="226.90" stroke="#000" stroke-width="1.05"/>
<line x1="283.20" y1="226.90" x2="288.60" y2="226.90" stroke="#000" stroke-width="1.05"/>
<circle cx="207.60" cy="250.20" r="1.80" fill="#fff" stroke="#000" stroke-width="0.95"/>
<circle cx="216.30" cy="230.60" r="1.80" fill="#fff" stroke="#000" stroke-width="0.95"/>
<circle cx="225.00" cy="226.20" r="1.80" fill="#fff" stroke="#000" stroke-width="0.95"/>
<circle cx="233.70" cy="222.70" r="1.80" fill="#fff" stroke="#000" stroke-width="0.95"/>
<circle cx="242.40" cy="218.70" r="1.80" fill="#fff" stroke="#000" stroke-width="0.95"/>
<circle cx="251.10" cy="217.30" r="1.80" fill="#fff" stroke="#000" stroke-width="0.95"/>
<circle cx="259.80" cy="217.80" r="1.80" fill="#fff" stroke="#000" stroke-width="0.95"/>
<circle cx="268.50" cy="220.70" r="1.80" fill="#fff" stroke="#000" stroke-width="0.95"/>
<circle cx="277.20" cy="226.40" r="1.80" fill="#fff" stroke="#000" stroke-width="0.95"/>
<circle cx="285.90" cy="223.90" r="1.80" fill="#fff" stroke="#000" stroke-width="0.95"/>
<circle cx="294.60" cy="227.10" r="1.80" fill="#fff" stroke="#000" stroke-width="0.95"/>
<rect x="205.85" y="247.85" width="3.50" height="3.50" fill="#fff" stroke="#000" stroke-width="0.95"/>
<rect x="214.55" y="229.05" width="3.50" height="3.50" fill="#fff" stroke="#000" stroke-width="0.95"/>
<rect x="223.25" y="229.45" width="3.50" height="3.50" fill="#fff" stroke="#000" stroke-width="0.95"/>
<rect x="231.95" y="226.05" width="3.50" height="3.50" fill="#fff" stroke="#000" stroke-width="0.95"/>
<rect x="240.65" y="225.05" width="3.50" height="3.50" fill="#fff" stroke="#000" stroke-width="0.95"/>
<rect x="249.35" y="228.05" width="3.50" height="3.50" fill="#fff" stroke="#000" stroke-width="0.95"/>
<rect x="258.05" y="229.85" width="3.50" height="3.50" fill="#fff" stroke="#000" stroke-width="0.95"/>
<rect x="266.75" y="232.95" width="3.50" height="3.50" fill="#fff" stroke="#000" stroke-width="0.95"/>
<rect x="275.45" y="234.75" width="3.50" height="3.50" fill="#fff" stroke="#000" stroke-width="0.95"/>
<rect x="284.15" y="236.05" width="3.50" height="3.50" fill="#fff" stroke="#000" stroke-width="0.95"/>
<rect x="292.85" y="236.05" width="3.50" height="3.50" fill="#fff" stroke="#000" stroke-width="0.95"/>
<polygon points="207.60,248.00 210.30,253.00 204.90,253.00" fill="#000"/>
<polygon points="216.30,227.80 219.00,232.80 213.60,232.80" fill="#000"/>
<polygon points="225.00,223.20 227.70,228.20 222.30,228.20" fill="#000"/>
<polygon points="233.70,216.10 236.40,221.10 231.00,221.10" fill="#000"/>
<polygon points="242.40,208.00 245.10,213.00 239.70,213.00" fill="#000"/>
<polygon points="251.10,201.00 253.80,206.00 248.40,206.00" fill="#000"/>
<polygon points="259.80,200.00 262.50,205.00 257.10,205.00" fill="#000"/>
<polygon points="268.50,198.30 271.20,203.30 265.80,203.30" fill="#000"/>
<polygon points="277.20,197.20 279.90,202.20 274.50,202.20" fill="#000"/>
<polygon points="285.90,196.00 288.60,201.00 283.20,201.00" fill="#000"/>
<polygon points="294.60,193.00 297.30,198.00 291.90,198.00" fill="#000"/>
<rect x="205.40" y="245.40" width="4.4" height="4.4" fill="#000"/>
<rect x="214.10" y="214.40" width="4.4" height="4.4" fill="#000"/>
<rect x="222.80" y="204.60" width="4.4" height="4.4" fill="#000"/>
<rect x="231.50" y="197.70" width="4.4" height="4.4" fill="#000"/>
<rect x="240.20" y="190.90" width="4.4" height="4.4" fill="#000"/>
<rect x="248.90" y="181.80" width="4.4" height="4.4" fill="#000"/>
<rect x="257.60" y="182.70" width="4.4" height="4.4" fill="#000"/>
<rect x="266.30" y="185.20" width="4.4" height="4.4" fill="#000"/>
<rect x="275.00" y="184.40" width="4.4" height="4.4" fill="#000"/>
<rect x="283.70" y="189.40" width="4.4" height="4.4" fill="#000"/>
<rect x="292.40" y="187.70" width="4.4" height="4.4" fill="#000"/>
<line x1="301.10" y1="203.20" x2="325.80" y2="203.20" stroke="#000" stroke-width="0.95"/>
<rect x="310.55" y="200.95" width="4.5" height="4.5" fill="#000"/>
<text x="327.10" y="205.10" font-size="5.3" text-anchor="start" font-weight="bold" font-family="Liberation Sans, Arial, sans-serif" stroke="#000" stroke-width="0.14">+Tet</text>
<line x1="301.10" y1="210.70" x2="325.80" y2="210.70" stroke="#000" stroke-width="0.95" stroke-dasharray="2.3 1.3"/>
<rect x="308.60" y="209.70" width="8.4" height="2" fill="#fff"/>
<polygon points="312.80,207.75 315.65,213.05 309.95,213.05" fill="#000"/>
<text x="327.10" y="212.60" font-size="5.3" text-anchor="start" font-weight="bold" font-family="Liberation Sans, Arial, sans-serif" stroke="#000" stroke-width="0.14">+Tet +SP</text>
<line x1="301.10" y1="218.50" x2="325.80" y2="218.50" stroke="#000" stroke-width="0.95"/>
<rect x="311.00" y="216.70" width="3.60" height="3.60" fill="#fff" stroke="#000" stroke-width="0.95"/>
<text x="327.10" y="220.40" font-size="5.3" text-anchor="start" font-weight="bold" font-family="Liberation Sans, Arial, sans-serif" stroke="#000" stroke-width="0.14">-Tet</text>
<line x1="301.10" y1="226.80" x2="325.80" y2="226.80" stroke="#000" stroke-width="0.95" stroke-dasharray="2.3 1.3"/>
<rect x="308.60" y="225.80" width="8.4" height="2" fill="#fff"/>
<circle cx="312.80" cy="226.80" r="1.80" fill="#fff" stroke="#000" stroke-width="0.95"/>
<text x="327.10" y="228.70" font-size="5.3" text-anchor="start" font-weight="bold" font-family="Liberation Sans, Arial, sans-serif" stroke="#000" stroke-width="0.14">-Tet +SP</text>
<line x1="394.50" y1="172.25" x2="394.50" y2="259.25" stroke="#000" stroke-width="1.15"/>
<line x1="394.05" y1="258.80" x2="517.00" y2="258.80" stroke="#000" stroke-width="1.15"/>
<line x1="389.90" y1="258.80" x2="394.50" y2="258.80" stroke="#000" stroke-width="1.15"/>
<text x="387.10" y="259.85" font-size="5.7" text-anchor="end" font-weight="normal" font-family="Liberation Sans, Arial, sans-serif" stroke="#000" stroke-width="0.28">0</text>
<line x1="389.90" y1="246.50" x2="394.50" y2="246.50" stroke="#000" stroke-width="1.15"/>
<text x="387.10" y="247.55" font-size="5.7" text-anchor="end" font-weight="normal" font-family="Liberation Sans, Arial, sans-serif" stroke="#000" stroke-width="0.28">0.2</text>
<line x1="389.90" y1="234.20" x2="394.50" y2="234.20" stroke="#000" stroke-width="1.15"/>
<text x="387.10" y="235.25" font-size="5.7" text-anchor="end" font-weight="normal" font-family="Liberation Sans, Arial, sans-serif" stroke="#000" stroke-width="0.28">0.4</text>
<line x1="389.90" y1="221.90" x2="394.50" y2="221.90" stroke="#000" stroke-width="1.15"/>
<text x="387.10" y="222.95" font-size="5.7" text-anchor="end" font-weight="normal" font-family="Liberation Sans, Arial, sans-serif" stroke="#000" stroke-width="0.28">0.6</text>
<line x1="389.90" y1="209.60" x2="394.50" y2="209.60" stroke="#000" stroke-width="1.15"/>
<text x="387.10" y="210.65" font-size="5.7" text-anchor="end" font-weight="normal" font-family="Liberation Sans, Arial, sans-serif" stroke="#000" stroke-width="0.28">0.8</text>
<line x1="389.90" y1="197.30" x2="394.50" y2="197.30" stroke="#000" stroke-width="1.15"/>
<text x="387.10" y="198.35" font-size="5.7" text-anchor="end" font-weight="normal" font-family="Liberation Sans, Arial, sans-serif" stroke="#000" stroke-width="0.28">1</text>
<line x1="389.90" y1="185.00" x2="394.50" y2="185.00" stroke="#000" stroke-width="1.15"/>
<text x="387.10" y="186.05" font-size="5.7" text-anchor="end" font-weight="normal" font-family="Liberation Sans, Arial, sans-serif" stroke="#000" stroke-width="0.28">1.2</text>
<line x1="389.90" y1="172.70" x2="394.50" y2="172.70" stroke="#000" stroke-width="1.15"/>
<text x="387.10" y="173.75" font-size="5.7" text-anchor="end" font-weight="normal" font-family="Liberation Sans, Arial, sans-serif" stroke="#000" stroke-width="0.28">1.4</text>
<line x1="394.50" y1="258.80" x2="394.50" y2="262.10" stroke="#000" stroke-width="1.15"/>
<text x="393.70" y="268.00" font-size="5.7" text-anchor="middle" font-weight="normal" font-family="Liberation Sans, Arial, sans-serif" stroke="#000" stroke-width="0.28">0.01</text>
<line x1="424.75" y1="258.80" x2="424.75" y2="262.10" stroke="#000" stroke-width="1.15"/>
<text x="423.95" y="268.00" font-size="5.7" text-anchor="middle" font-weight="normal" font-family="Liberation Sans, Arial, sans-serif" stroke="#000" stroke-width="0.28">0.1</text>
<line x1="455.00" y1="258.80" x2="455.00" y2="262.10" stroke="#000" stroke-width="1.15"/>
<text x="454.20" y="268.00" font-size="5.7" text-anchor="middle" font-weight="normal" font-family="Liberation Sans, Arial, sans-serif" stroke="#000" stroke-width="0.28">1</text>
<line x1="485.25" y1="258.80" x2="485.25" y2="262.10" stroke="#000" stroke-width="1.15"/>
<text x="484.45" y="268.00" font-size="5.7" text-anchor="middle" font-weight="normal" font-family="Liberation Sans, Arial, sans-serif" stroke="#000" stroke-width="0.28">10</text>
<line x1="515.50" y1="258.80" x2="515.50" y2="262.10" stroke="#000" stroke-width="1.15"/>
<text x="513.60" y="268.00" font-size="5.7" text-anchor="middle" font-weight="normal" font-family="Liberation Sans, Arial, sans-serif" stroke="#000" stroke-width="0.28">100</text>
<line x1="403.61" y1="258.80" x2="403.61" y2="260.60" stroke="#000" stroke-width="0.8"/>
<line x1="408.93" y1="258.80" x2="408.93" y2="260.60" stroke="#000" stroke-width="0.8"/>
<line x1="412.71" y1="258.80" x2="412.71" y2="260.60" stroke="#000" stroke-width="0.8"/>
<line x1="415.64" y1="258.80" x2="415.64" y2="260.60" stroke="#000" stroke-width="0.8"/>
<line x1="418.04" y1="258.80" x2="418.04" y2="260.60" stroke="#000" stroke-width="0.8"/>
<line x1="420.06" y1="258.80" x2="420.06" y2="260.60" stroke="#000" stroke-width="0.8"/>
<line x1="421.82" y1="258.80" x2="421.82" y2="260.60" stroke="#000" stroke-width="0.8"/>
<line x1="423.37" y1="258.80" x2="423.37" y2="260.60" stroke="#000" stroke-width="0.8"/>
<line x1="433.86" y1="258.80" x2="433.86" y2="260.60" stroke="#000" stroke-width="0.8"/>
<line x1="439.18" y1="258.80" x2="439.18" y2="260.60" stroke="#000" stroke-width="0.8"/>
<line x1="442.96" y1="258.80" x2="442.96" y2="260.60" stroke="#000" stroke-width="0.8"/>
<line x1="445.89" y1="258.80" x2="445.89" y2="260.60" stroke="#000" stroke-width="0.8"/>
<line x1="448.29" y1="258.80" x2="448.29" y2="260.60" stroke="#000" stroke-width="0.8"/>
<line x1="450.31" y1="258.80" x2="450.31" y2="260.60" stroke="#000" stroke-width="0.8"/>
<line x1="452.07" y1="258.80" x2="452.07" y2="260.60" stroke="#000" stroke-width="0.8"/>
<line x1="453.62" y1="258.80" x2="453.62" y2="260.60" stroke="#000" stroke-width="0.8"/>
<line x1="464.11" y1="258.80" x2="464.11" y2="260.60" stroke="#000" stroke-width="0.8"/>
<line x1="469.43" y1="258.80" x2="469.43" y2="260.60" stroke="#000" stroke-width="0.8"/>
<line x1="473.21" y1="258.80" x2="473.21" y2="260.60" stroke="#000" stroke-width="0.8"/>
<line x1="476.14" y1="258.80" x2="476.14" y2="260.60" stroke="#000" stroke-width="0.8"/>
<line x1="478.54" y1="258.80" x2="478.54" y2="260.60" stroke="#000" stroke-width="0.8"/>
<line x1="480.56" y1="258.80" x2="480.56" y2="260.60" stroke="#000" stroke-width="0.8"/>
<line x1="482.32" y1="258.80" x2="482.32" y2="260.60" stroke="#000" stroke-width="0.8"/>
<line x1="483.87" y1="258.80" x2="483.87" y2="260.60" stroke="#000" stroke-width="0.8"/>
<line x1="494.36" y1="258.80" x2="494.36" y2="260.60" stroke="#000" stroke-width="0.8"/>
<line x1="499.68" y1="258.80" x2="499.68" y2="260.60" stroke="#000" stroke-width="0.8"/>
<line x1="503.46" y1="258.80" x2="503.46" y2="260.60" stroke="#000" stroke-width="0.8"/>
<line x1="506.39" y1="258.80" x2="506.39" y2="260.60" stroke="#000" stroke-width="0.8"/>
<line x1="508.79" y1="258.80" x2="508.79" y2="260.60" stroke="#000" stroke-width="0.8"/>
<line x1="510.81" y1="258.80" x2="510.81" y2="260.60" stroke="#000" stroke-width="0.8"/>
<line x1="512.57" y1="258.80" x2="512.57" y2="260.60" stroke="#000" stroke-width="0.8"/>
<line x1="514.12" y1="258.80" x2="514.12" y2="260.60" stroke="#000" stroke-width="0.8"/>
<text x="376.90" y="210.00" font-size="8.3" text-anchor="middle" font-weight="normal" font-family="Liberation Sans, Arial, sans-serif" transform="rotate(-90 376.90 210.00)" stroke="#000" stroke-width="0.34">Metabolic activity</text>
<text x="443.00" y="278.20" font-size="8.3" text-anchor="middle" font-weight="normal" font-family="Liberation Sans, Arial, sans-serif" stroke="#000" stroke-width="0.42000000000000004">[U0126]</text>
<polyline points="403.40,201.30 412.51,204.30 421.62,206.30 430.73,202.50 439.84,197.60 448.95,188.80 458.06,185.80 467.17,183.10 476.28,199.30 485.39,214.70 494.50,232.60 503.61,243.10" fill="none" stroke="#000" stroke-width="1.3"/>
<rect x="400.90" y="198.80" width="5.0" height="5.0" fill="#000"/>
<rect x="410.01" y="201.80" width="5.0" height="5.0" fill="#000"/>
<rect x="419.12" y="203.80" width="5.0" height="5.0" fill="#000"/>
<rect x="428.23" y="200.00" width="5.0" height="5.0" fill="#000"/>
<rect x="437.34" y="195.10" width="5.0" height="5.0" fill="#000"/>
<rect x="446.45" y="186.30" width="5.0" height="5.0" fill="#000"/>
<rect x="455.56" y="183.30" width="5.0" height="5.0" fill="#000"/>
<rect x="464.67" y="180.60" width="5.0" height="5.0" fill="#000"/>
<rect x="473.78" y="196.80" width="5.0" height="5.0" fill="#000"/>
<rect x="482.89" y="212.20" width="5.0" height="5.0" fill="#000"/>
<rect x="492.00" y="230.10" width="5.0" height="5.0" fill="#000"/>
<rect x="501.11" y="240.60" width="5.0" height="5.0" fill="#000"/>
<polygon points="489.90,206.90 492.40,209.40 489.90,211.90 487.40,209.40" fill="#000"/>
<defs><filter id="b1" x="-30%" y="-60%" width="160%" height="220%"><feGaussianBlur stdDeviation="0.8 0.6"/></filter><filter id="b2" x="-30%" y="-30%" width="160%" height="160%"><feGaussianBlur stdDeviation="1.0 1.5"/></filter><filter id="nz" x="0" y="0" width="100%" height="100%"><feTurbulence type="fractalNoise" baseFrequency="0.22" numOctaves="2" seed="7"/><feColorMatrix type="matrix" values="0 0 0 0 0  0 0 0 0 0  0 0 0 0 0  1.6 0 0 0 -0.45"/></filter><filter id="b3" x="-30%" y="-30%" width="160%" height="160%"><feGaussianBlur stdDeviation="2.5"/></filter><clipPath id="cL"><rect x="206.4" y="35" width="43.0" height="61.2"/></clipPath><clipPath id="cL2"><rect x="206.4" y="100.0" width="43.0" height="14.6"/></clipPath><clipPath id="cR"><rect x="253.0" y="35" width="31.6" height="61.2"/></clipPath><clipPath id="cR2"><rect x="253.0" y="100.0" width="31.6" height="14.6"/></clipPath></defs>
<rect x="206.4" y="35" width="43.0" height="61.2" fill="#c0c0c0"/>
<g clip-path="url(#cL)">
<rect x="205.00" y="83.00" width="46" height="14" fill="#000" opacity="0.1" filter="url(#b3)"/>
<rect x="205.00" y="38.00" width="46" height="20" fill="#000" opacity="0.07" filter="url(#b3)"/>
<rect x="207.90" y="51.30" width="3.8" height="2.2" fill="#000" opacity="0.5" filter="url(#b1)"/>
<rect x="207.60" y="84.30" width="4.4" height="2.6" fill="#000" opacity="0.15" filter="url(#b1)"/>
<rect x="207.80" y="70.70" width="4" height="2" fill="#000" opacity="0.14" filter="url(#b1)"/>
<rect x="213.50" y="38.00" width="6.2" height="44" fill="#000" opacity="0.16" filter="url(#b2)"/>
<rect x="213.50" y="47.00" width="6.2" height="11" fill="#000" opacity="0.6" filter="url(#b2)"/>
<rect x="213.60" y="50.50" width="6.0" height="5.4" fill="#000" opacity="0.95" filter="url(#b1)"/>
<rect x="214.80" y="39.10" width="1.4" height="5.0" fill="#000" opacity="0.8" filter="url(#b1)"/>
<rect x="217.00" y="39.10" width="1.4" height="5.0" fill="#000" opacity="0.7" filter="url(#b1)"/>
<rect x="214.40" y="70.60" width="4.4" height="2.2" fill="#000" opacity="0.8" filter="url(#b1)"/>
<rect x="214.20" y="84.40" width="4.8" height="2.8" fill="#000" opacity="0.8" filter="url(#b1)"/>
<rect x="221.70" y="51.30" width="3.8" height="2.2" fill="#000" opacity="0.7" filter="url(#b1)"/>
<rect x="221.40" y="84.30" width="4.4" height="2.6" fill="#000" opacity="0.42" filter="url(#b1)"/>
<rect x="221.60" y="70.70" width="4" height="2" fill="#000" opacity="0.14" filter="url(#b1)"/>
<rect x="227.10" y="38.00" width="6.2" height="44" fill="#000" opacity="0.16" filter="url(#b2)"/>
<rect x="227.10" y="47.00" width="6.2" height="11" fill="#000" opacity="0.6" filter="url(#b2)"/>
<rect x="227.20" y="50.50" width="6.0" height="5.4" fill="#000" opacity="0.95" filter="url(#b1)"/>
<rect x="228.40" y="39.10" width="1.4" height="5.0" fill="#000" opacity="0.8" filter="url(#b1)"/>
<rect x="230.60" y="39.10" width="1.4" height="5.0" fill="#000" opacity="0.7" filter="url(#b1)"/>
<rect x="228.00" y="70.60" width="4.4" height="2.2" fill="#000" opacity="0.8" filter="url(#b1)"/>
<rect x="227.80" y="84.40" width="4.8" height="2.8" fill="#000" opacity="0.8" filter="url(#b1)"/>
<rect x="235.50" y="51.30" width="3.8" height="2.2" fill="#000" opacity="0.7" filter="url(#b1)"/>
<rect x="235.20" y="84.30" width="4.4" height="2.6" fill="#000" opacity="0.42" filter="url(#b1)"/>
<rect x="235.40" y="70.70" width="4" height="2" fill="#000" opacity="0.14" filter="url(#b1)"/>
<rect x="241.20" y="38.00" width="6.2" height="44" fill="#000" opacity="0.16" filter="url(#b2)"/>
<rect x="241.20" y="47.00" width="6.2" height="11" fill="#000" opacity="0.6" filter="url(#b2)"/>
<rect x="241.30" y="50.50" width="6.0" height="5.4" fill="#000" opacity="0.95" filter="url(#b1)"/>
<rect x="242.50" y="39.10" width="1.4" height="5.0" fill="#000" opacity="0.8" filter="url(#b1)"/>
<rect x="244.70" y="39.10" width="1.4" height="5.0" fill="#000" opacity="0.7" filter="url(#b1)"/>
<rect x="241.60" y="69.80" width="5.4" height="2.2" fill="#000" opacity="0.8" filter="url(#b1)"/>
<rect x="241.90" y="84.40" width="4.8" height="2.8" fill="#000" opacity="0.6" filter="url(#b1)"/>
<rect x="206.4" y="35" width="43.0" height="61.2" filter="url(#nz)" opacity="0.22"/>
</g>
<rect x="206.4" y="35" width="43.0" height="61.2" fill="none" stroke="#111" stroke-width="1.2"/>
<rect x="206.4" y="100.0" width="43.0" height="14.6" fill="#b2b2b2"/>
<g clip-path="url(#cL2)">
<rect x="207.60" y="105.70" width="4.4" height="3.2" fill="#000" opacity="0.18" filter="url(#b1)"/>
<rect x="213.80" y="105.00" width="5.6" height="4.6" fill="#000" opacity="0.95" filter="url(#b1)"/>
<rect x="221.40" y="105.70" width="4.4" height="3.2" fill="#000" opacity="0.3" filter="url(#b1)"/>
<rect x="227.40" y="105.00" width="5.6" height="4.6" fill="#000" opacity="0.95" filter="url(#b1)"/>
<rect x="235.20" y="105.70" width="4.4" height="3.2" fill="#000" opacity="0.3" filter="url(#b1)"/>
<rect x="241.50" y="105.00" width="5.6" height="4.6" fill="#000" opacity="0.95" filter="url(#b1)"/>
</g>
<rect x="206.4" y="100.0" width="43.0" height="14.6" fill="none" stroke="#111" stroke-width="1"/>
<rect x="253.0" y="35" width="31.6" height="61.2" fill="#9e9e9e"/>
<g clip-path="url(#cR)">
<rect x="252.50" y="30.00" width="3" height="70" fill="#000" opacity="0.25" filter="url(#b2)"/>
<rect x="282.10" y="30.00" width="3" height="70" fill="#000" opacity="0.2" filter="url(#b2)"/>
<rect x="251.80" y="35.00" width="34" height="4" fill="#000" opacity="0.3" filter="url(#b2)"/>
<rect x="254.80" y="53.70" width="7.0" height="3.0" fill="#000" opacity="0.8" filter="url(#b1)"/>
<rect x="254.80" y="50.30" width="7.0" height="2.0" fill="#000" opacity="0.25" filter="url(#b1)"/>
<rect x="265.30" y="53.70" width="7.0" height="3.0" fill="#000" opacity="0.9" filter="url(#b1)"/>
<rect x="265.30" y="50.30" width="7.0" height="2.0" fill="#000" opacity="0.25" filter="url(#b1)"/>
<rect x="275.10" y="53.70" width="7.0" height="3.0" fill="#000" opacity="0.72" filter="url(#b1)"/>
<rect x="275.10" y="50.30" width="7.0" height="2.0" fill="#000" opacity="0.25" filter="url(#b1)"/>
</g>
<rect x="253.0" y="35" width="31.6" height="61.2" fill="none" stroke="#1a1a1a" stroke-width="1"/>
<rect x="253.0" y="100.0" width="31.6" height="14.6" fill="#a6a6a6"/>
<g clip-path="url(#cR2)">
<rect x="253.90" y="105.30" width="7.0" height="3.2" fill="#000" opacity="0.9" filter="url(#b1)"/>
<rect x="265.20" y="105.30" width="7.0" height="3.2" fill="#000" opacity="0.9" filter="url(#b1)"/>
<rect x="276.10" y="105.30" width="7.0" height="3.2" fill="#000" opacity="0.55" filter="url(#b1)"/>
</g>
<rect x="253.0" y="100.0" width="31.6" height="14.6" fill="none" stroke="#1a1a1a" stroke-width="1"/>
<text x="214.60" y="25.00" font-size="5.6" text-anchor="middle" font-weight="bold" font-family="Liberation Sans, Arial, sans-serif" stroke="#000" stroke-width="0.14">C</text>
<text x="227.40" y="25.00" font-size="5.6" text-anchor="middle" font-weight="bold" font-family="Liberation Sans, Arial, sans-serif" stroke="#000" stroke-width="0.14">U0</text>
<text x="239.50" y="25.00" font-size="5.6" text-anchor="middle" font-weight="bold" font-family="Liberation Sans, Arial, sans-serif" stroke="#000" stroke-width="0.14">SP</text>
<line x1="210.00" y1="28.00" x2="218.90" y2="28.00" stroke="#000" stroke-width="1.35"/>
<line x1="225.40" y1="28.00" x2="233.40" y2="28.00" stroke="#000" stroke-width="1.35"/>
<line x1="238.90" y1="28.00" x2="247.30" y2="28.00" stroke="#000" stroke-width="1.35"/>
<text x="208.50" y="31.70" font-size="4.4" text-anchor="middle" font-weight="bold" font-family="Liberation Sans, Arial, sans-serif" stroke="#000" stroke-width="0.15">+</text>
<text x="215.50" y="31.70" font-size="4.4" text-anchor="middle" font-weight="bold" font-family="Liberation Sans, Arial, sans-serif" stroke="#000" stroke-width="0.15">-</text>
<text x="220.90" y="31.70" font-size="4.4" text-anchor="middle" font-weight="bold" font-family="Liberation Sans, Arial, sans-serif" stroke="#000" stroke-width="0.15">+</text>
<text x="228.40" y="31.70" font-size="4.4" text-anchor="middle" font-weight="bold" font-family="Liberation Sans, Arial, sans-serif" stroke="#000" stroke-width="0.15">-</text>
<text x="233.40" y="31.70" font-size="4.4" text-anchor="middle" font-weight="bold" font-family="Liberation Sans, Arial, sans-serif" stroke="#000" stroke-width="0.15">+</text>
<text x="240.80" y="31.70" font-size="4.4" text-anchor="middle" font-weight="bold" font-family="Liberation Sans, Arial, sans-serif" stroke="#000" stroke-width="0.15">-</text>
<text x="268.80" y="24.30" font-size="5.45" text-anchor="middle" font-weight="bold" font-family="Liberation Sans, Arial, sans-serif" stroke="#000" stroke-width="0.14">IP:PDGFβR</text>
<text x="258.60" y="31.30" font-size="5.5" text-anchor="middle" font-weight="bold" font-family="Liberation Sans, Arial, sans-serif" stroke="#000" stroke-width="0.14">C</text>
<text x="267.60" y="31.30" font-size="5.5" text-anchor="middle" font-weight="bold" font-family="Liberation Sans, Arial, sans-serif" stroke="#000" stroke-width="0.14">U0</text>
<text x="278.40" y="31.30" font-size="5.5" text-anchor="middle" font-weight="bold" font-family="Liberation Sans, Arial, sans-serif" stroke="#000" stroke-width="0.14">SP</text>
<text x="200.00" y="53.10" font-size="5.25" text-anchor="end" font-weight="bold" font-family="Liberation Sans, Arial, sans-serif" stroke="#000" stroke-width="0.14">Blot: α pTyr</text>
<text x="200.00" y="104.40" font-size="5.15" text-anchor="end" font-weight="bold" font-family="Liberation Sans, Arial, sans-serif" stroke="#000" stroke-width="0.14">Blot:PDGFβR</text>
<polygon points="287.20,55.00 291.75,53.75 294.94,53.30 296.30,53.80 296.60,55.00 296.30,56.20 294.94,56.70 291.75,56.25" fill="#000"/>
<text x="298.60" y="57.00" font-size="5.28" text-anchor="start" font-weight="bold" font-family="Liberation Sans, Arial, sans-serif" stroke="#000" stroke-width="0.14">TEL/PDGFβR</text>
<polygon points="287.70,106.90 292.15,105.65 295.27,105.20 296.60,105.70 296.90,106.90 296.60,108.10 295.27,108.60 292.15,108.15" fill="#000"/>
<text x="298.80" y="108.80" font-size="5.35" text-anchor="start" font-weight="bold" font-family="Liberation Sans, Arial, sans-serif" stroke="#000" stroke-width="0.14">TEL/PDGFβR</text>
</g>
</svg>
</body></html>
